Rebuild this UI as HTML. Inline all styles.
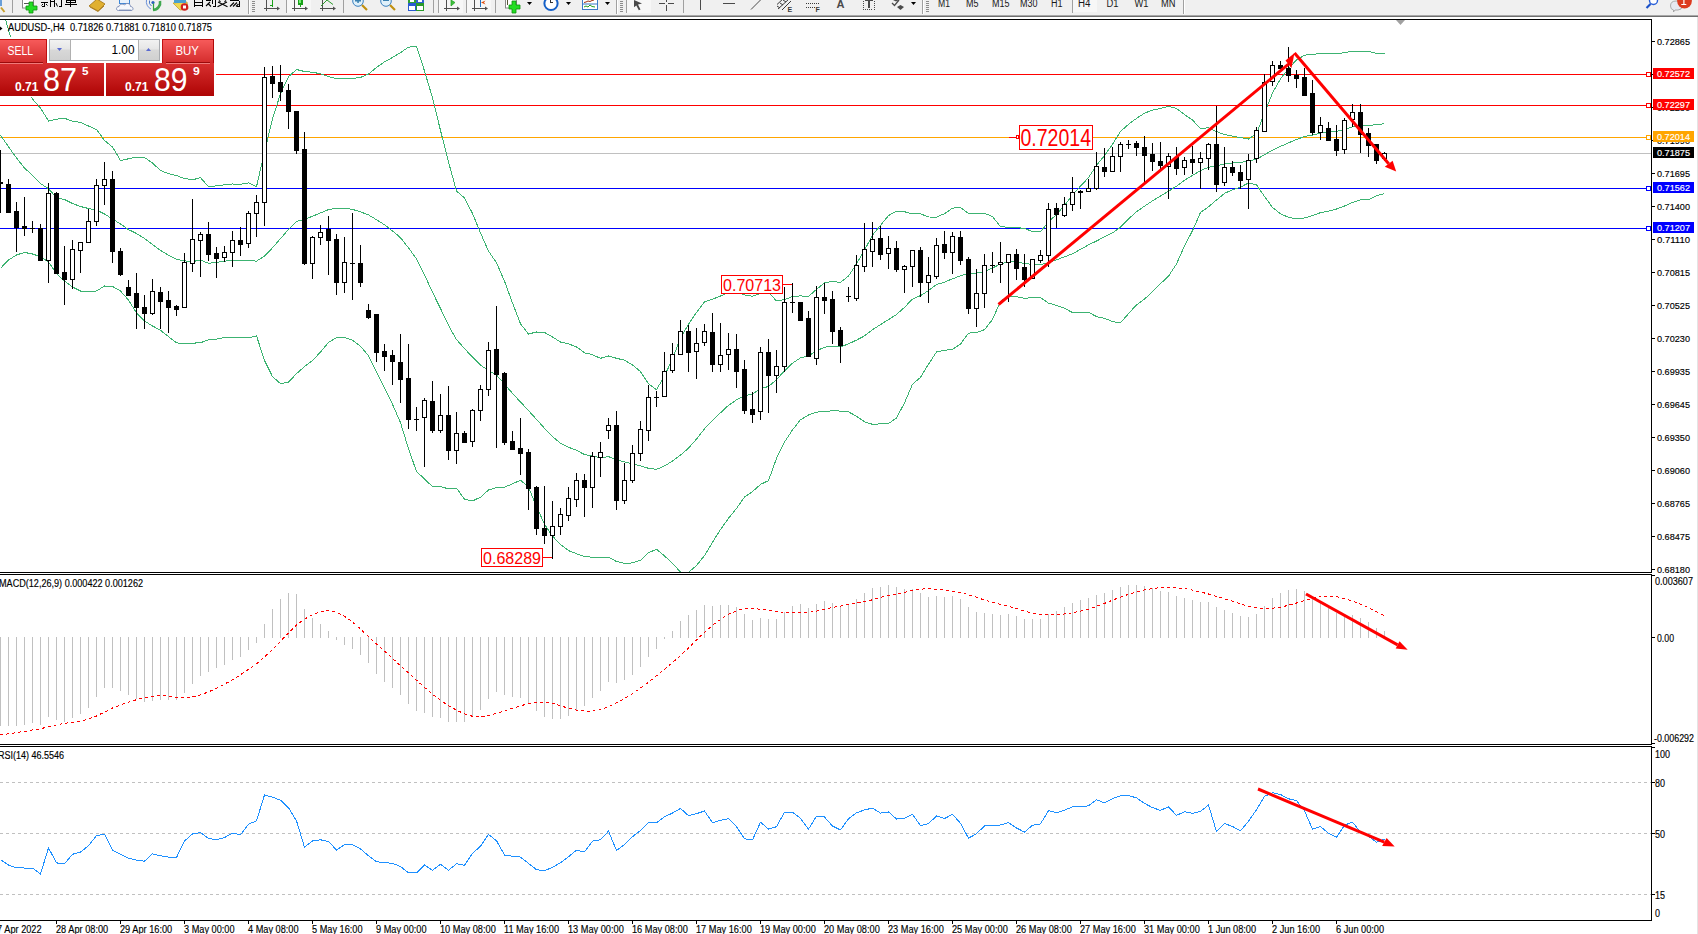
<!DOCTYPE html>
<html><head><meta charset="utf-8"><title>MT4 AUDUSD H4</title>
<style>html,body{margin:0;padding:0;background:#fff;overflow:hidden;width:1698px;height:934px} svg{display:block} text{font-family:"Liberation Sans",sans-serif}</style>
</head><body>
<svg width="1698" height="934" viewBox="0 0 1698 934" font-family="Liberation Sans, sans-serif">
<rect x="0" y="0" width="1698" height="934" fill="#ffffff"/>
<g id="toolbar">
<rect x="0" y="0" width="1698" height="15" fill="#f0f0f0"/>
<rect x="0" y="15" width="1698" height="1" fill="#a8a8a8"/>
<rect x="0" y="16" width="1698" height="1" fill="#6e6e6e"/>
<g shape-rendering="geometricPrecision">
<!-- separators -->
<g fill="#a0a0a0" shape-rendering="crispEdges">
<rect x="12" y="0" width="1" height="13"/>
<rect x="248" y="0" width="1" height="14"/>
<rect x="286" y="0" width="1" height="13"/>
<rect x="343" y="0" width="1" height="13"/>
<rect x="433" y="0" width="1" height="13"/>
<rect x="438" y="0" width="1" height="13"/>
<rect x="466" y="0" width="1" height="13"/>
<rect x="495" y="0" width="1" height="13"/>
<rect x="616" y="0" width="1" height="14"/>
<rect x="626" y="0" width="1" height="13"/>
<rect x="683" y="0" width="1" height="13"/>
<rect x="922" y="0" width="1" height="14"/>
<rect x="1072" y="0" width="1" height="13"/>
<rect x="1183" y="0" width="1" height="14"/>
</g>
<g fill="#ffffff" shape-rendering="crispEdges">
<rect x="249" y="0" width="1" height="14"/>
<rect x="617" y="0" width="1" height="14"/>
<rect x="923" y="0" width="1" height="14"/>
<rect x="1184" y="0" width="1" height="14"/>
</g>
<!-- grips -->
<g fill="#8c8c8c" shape-rendering="crispEdges">
<rect x="252" y="1" width="3" height="1"/><rect x="252" y="3" width="3" height="1"/><rect x="252" y="5" width="3" height="1"/><rect x="252" y="7" width="3" height="1"/><rect x="252" y="9" width="3" height="1"/><rect x="252" y="11" width="3" height="1"/>
<rect x="620" y="1" width="3" height="1"/><rect x="620" y="3" width="3" height="1"/><rect x="620" y="5" width="3" height="1"/><rect x="620" y="7" width="3" height="1"/><rect x="620" y="9" width="3" height="1"/><rect x="620" y="11" width="3" height="1"/>
<rect x="926" y="1" width="3" height="1"/><rect x="926" y="3" width="3" height="1"/><rect x="926" y="5" width="3" height="1"/><rect x="926" y="7" width="3" height="1"/><rect x="926" y="9" width="3" height="1"/><rect x="926" y="11" width="3" height="1"/>
</g>
<!-- highlighted button backgrounds -->
<g fill="#f7f7f7" shape-rendering="crispEdges">
<rect x="287" y="0" width="24" height="13"/>
<rect x="439" y="0" width="24" height="13"/>
<rect x="467" y="0" width="24" height="13"/>
<rect x="627" y="0" width="24" height="13"/>
<rect x="1073" y="0" width="24" height="12"/>
</g>
<!-- magnifier partial -->
<rect x="0" y="0" width="2" height="6" fill="#6a9fd8"/>
<line x1="1" y1="7.5" x2="4.5" y2="12" stroke="#c8a030" stroke-width="2"/>
<!-- new order icon -->
<rect x="22.5" y="-2" width="11" height="10" fill="#fff" stroke="#888"/>
<rect x="24" y="3" width="6" height="1" fill="#555"/>
<path d="M29,2 h4 v4 h4 v4 h-4 v3 h-4 v-3 h-3 v-4 h3 z" fill="#22dd22" stroke="#109010" stroke-width="0.8"/>
<!-- 新订单 -->
<g fill="#000" shape-rendering="crispEdges">
<rect x="41" y="2" width="7" height="1"/><rect x="44" y="2" width="1" height="5"/><rect x="42" y="6" width="2" height="1"/>
<rect x="50" y="0" width="1" height="7"/><rect x="51" y="1" width="3" height="1"/><rect x="54" y="0" width="1" height="7"/>
<rect x="61" y="0" width="1" height="7"/><rect x="59" y="6" width="2" height="1"/>
<rect x="66" y="0" width="10" height="1"/><rect x="66" y="2" width="10" height="1"/><rect x="65" y="4" width="12" height="1"/><rect x="70" y="0" width="1" height="7"/><rect x="66" y="0" width="1" height="3"/><rect x="75" y="0" width="1" height="3"/>
</g>
<g stroke="#000" stroke-width="1" fill="none"><line x1="41.5" y1="5.5" x2="43" y2="4"/><line x1="46" y1="4" x2="47.5" y2="5.5"/><line x1="56" y1="3" x2="57.5" y2="6.5"/></g>
<!-- gold book -->
<path d="M89,6 L97,-1 L105,4 L98,11 Z" fill="#e0b030" stroke="#a07010" stroke-width="0.8"/>
<path d="M90,7 L98,11.5 L104,6" fill="none" stroke="#b08020" stroke-width="1"/>
<!-- cloud -->
<rect x="119.5" y="-1" width="10" height="4.5" fill="#e8f2fc" stroke="#3a86d8" stroke-width="1"/>
<path d="M118.5,10.5 C115.5,10.5 116,6.5 119,6.5 C119.5,4 123,3.5 124.5,5 C126,2.5 130.5,3 130.5,6.5 C133.5,6.5 134,10.5 131,10.5 Z" fill="#f6f8fc" stroke="#8090b8" stroke-width="1"/>
<path d="M119,9.5 L131,9.5" stroke="#c8d0e0" stroke-width="1"/>
<!-- signal -->
<path d="M146.5,0 A8,8 0 0 0 151,9" fill="none" stroke="#6a90d8" stroke-width="1"/>
<path d="M149.5,0.5 A5,5 0 0 0 151.5,6" fill="none" stroke="#4a78c8" stroke-width="1"/>
<circle cx="153" cy="2.5" r="1.6" fill="#2a60c0"/>
<path d="M153,10 A7.5,7.5 0 0 0 160,1" fill="none" stroke="#40a850" stroke-width="2.6"/>
<path d="M153.5,3.5 L153.5,10" stroke="#30a040" stroke-width="1.2"/>
<!-- auto trading -->
<path d="M173,3 L180,10 L188,9 L187,2 Z" fill="#f0d850" stroke="#c0a030" stroke-width="0.8"/>
<rect x="174" y="0" width="12" height="3" fill="#4aa0d0"/>
<circle cx="184.5" cy="7" r="3.8" fill="#d02020"/>
<rect x="183" y="5.5" width="3" height="3" fill="#fff"/>
<!-- 自动交易 -->
<g fill="#000" shape-rendering="crispEdges">
<rect x="194" y="0" width="1" height="7"/><rect x="202" y="0" width="1" height="7"/><rect x="195" y="2" width="7" height="1"/><rect x="195" y="5" width="7" height="1"/>
<rect x="206" y="0" width="5" height="1"/><rect x="215" y="0" width="1" height="7"/><rect x="213" y="6" width="2" height="1"/><rect x="212" y="0" width="1" height="4"/>
<rect x="230" y="0" width="9" height="1"/><rect x="239" y="1" width="1" height="6"/><rect x="237" y="6" width="2" height="1"/>
</g>
<g stroke="#000" stroke-width="1.1" fill="none">
<line x1="206" y1="6" x2="210" y2="2"/><line x1="208" y1="3.5" x2="211" y2="6.5"/>
<line x1="218" y1="2" x2="227.5" y2="6.8"/><line x1="227" y1="2" x2="217.5" y2="6.8"/><line x1="219" y1="0.5" x2="220.5" y2="1.8"/><line x1="226" y1="0.5" x2="224.5" y2="1.8"/>
<line x1="230" y1="6.5" x2="234" y2="2.5"/><line x1="233" y1="6.5" x2="237" y2="2.5"/><line x1="236" y1="6.5" x2="238.5" y2="4"/>
</g>
<!-- chart type icons -->
<g fill="#505050" shape-rendering="crispEdges">
<rect x="266" y="0" width="1" height="11"/><rect x="264" y="8" width="13" height="1"/>
<rect x="294" y="0" width="1" height="11"/><rect x="292" y="8" width="13" height="1"/>
<rect x="322" y="0" width="1" height="11"/><rect x="320" y="8" width="13" height="1"/>
<rect x="446" y="0" width="1" height="11"/><rect x="444" y="8" width="13" height="1"/>
<rect x="474" y="0" width="1" height="11"/><rect x="472" y="8" width="13" height="1"/>
</g>
<g fill="#505050">
<polygon points="277,6.5 280,8.5 277,10.5"/><polygon points="305,6.5 308,8.5 305,10.5"/><polygon points="333,6.5 336,8.5 333,10.5"/><polygon points="457,6.5 460,8.5 457,10.5"/><polygon points="485,6.5 488,8.5 485,10.5"/>
</g>
<g shape-rendering="crispEdges" fill="#1aa01a">
<rect x="272" y="0" width="1" height="7"/><rect x="270" y="5" width="2" height="1"/>
<rect x="298" y="0" width="5" height="5"/><rect x="300" y="5" width="1" height="2"/>
</g>
<rect x="299" y="0" width="2" height="3" fill="#70f070"/>
<polyline points="321,6 327,0 333,4.5" fill="none" stroke="#2a9a2a" stroke-width="1"/>
<!-- zoom in / out -->
<g>
<line x1="362" y1="5" x2="367" y2="10" stroke="#c09010" stroke-width="2.2"/>
<circle cx="358" cy="1" r="5.3" fill="#dff0fa" stroke="#3a80c0" stroke-width="1"/>
<rect x="355" y="0" width="6" height="1.5" fill="#3a80b0"/><rect x="357.3" y="-2" width="1.5" height="5" fill="#3a80b0"/>
<line x1="390" y1="5" x2="395" y2="10" stroke="#c09010" stroke-width="2.2"/>
<circle cx="386" cy="1" r="5.3" fill="#dff0fa" stroke="#3a80c0" stroke-width="1"/>
<rect x="383" y="-1" width="6" height="2" fill="#3a80b0"/>
</g>
<!-- tile windows -->
<g shape-rendering="crispEdges">
<rect x="408" y="0" width="8" height="3" fill="#30a030"/><rect x="416" y="0" width="8" height="3" fill="#3060d0"/>
<rect x="408" y="3" width="8" height="8" fill="#2a5ad0"/><rect x="416" y="3" width="8" height="8" fill="#2a9a2a"/>
<rect x="409" y="6" width="6" height="4" fill="#fff"/><rect x="417" y="6" width="6" height="4" fill="#fff"/>
<rect x="410" y="0" width="4" height="2" fill="#fff"/><rect x="418" y="0" width="4" height="2" fill="#fff"/>
</g>
<!-- autoscroll / shift -->
<polygon points="451,0 455,2.5 451,6" fill="#40c040" stroke="#20a020" stroke-width="0.7"/>
<rect x="480" y="0" width="1" height="7" fill="#2070c0"/>
<polygon points="481,2.5 485.5,0.5 484,2.5 485.5,4.5" fill="#e05010"/>
<!-- indicators icon -->
<rect x="505.5" y="-2" width="11" height="10" fill="#fff" stroke="#888"/>
<rect x="507" y="0" width="1" height="5" fill="#553"/>
<path d="M512,1 h4 v4 h4 v4 h-4 v4 h-4 v-4 h-3 v-4 h3 z" fill="#22dd22" stroke="#109010" stroke-width="0.8"/>
<!-- dropdown arrows -->
<g fill="#000">
<polygon points="527,2 532,2 529.5,5"/><polygon points="566,2 571,2 568.5,5"/><polygon points="605,2 610,2 607.5,5"/><polygon points="911,2 916,2 913.5,5"/>
</g>
<!-- clock -->
<circle cx="551" cy="3.5" r="6.6" fill="#fff" stroke="#1560c8" stroke-width="2"/>
<rect x="550" y="-1" width="1" height="3" fill="#333"/><rect x="550" y="2" width="3" height="1" fill="#333"/>
<!-- template -->
<rect x="582.5" y="-1" width="15" height="10.5" fill="#fff" stroke="#3a7ac8"/>
<rect x="583" y="3.5" width="14" height="1" fill="#3a7ac8"/>
<polyline points="584,2.5 586,2 588,1 590,1.5 592,0.5 594,0" fill="none" stroke="#a03010" stroke-width="1"/>
<polyline points="584,7 586,6 588,7 590,5 592,6.5 595,7" fill="none" stroke="#20a020" stroke-width="1"/>
<!-- cursor -->
<polygon points="634,0 642,3.5 638,4.5 640.5,9.5 638.8,10.2 636.3,5.5 634,7.3" fill="#4a4a4a"/>
<!-- crosshair -->
<g fill="#4a4a4a" shape-rendering="crispEdges">
<rect x="659" y="3" width="6" height="1"/><rect x="668" y="3" width="6" height="1"/><rect x="666" y="0" width="1" height="2"/><rect x="666" y="5" width="1" height="6"/>
<rect x="700" y="0" width="1" height="10"/>
<rect x="723" y="3" width="12" height="1"/>
</g>
<line x1="751" y1="9.5" x2="761" y2="-0.5" stroke="#4a4a4a" stroke-width="1"/>
<!-- fibo -->
<g stroke="#3a3a3a" stroke-width="1" fill="none">
<line x1="777" y1="4.5" x2="784" y2="-2"/><line x1="778" y1="9" x2="789" y2="-1"/><line x1="782" y1="10" x2="791" y2="1"/>
<line x1="777" y1="6" x2="780" y2="8"/><line x1="780" y1="3" x2="783" y2="5"/><line x1="783" y1="0" x2="786" y2="2"/>
</g>
<text x="787.5" y="11.8" font-size="7" font-weight="bold" fill="#3a3a3a">E</text>
<g fill="#3a3a3a" shape-rendering="crispEdges">
<rect x="806" y="3" width="1" height="1"/><rect x="808" y="3" width="1" height="1"/><rect x="810" y="3" width="1" height="1"/><rect x="812" y="3" width="1" height="1"/><rect x="814" y="3" width="1" height="1"/><rect x="816" y="3" width="1" height="1"/><rect x="818" y="3" width="1" height="1"/>
<rect x="806" y="7" width="1" height="1"/><rect x="808" y="7" width="1" height="1"/><rect x="810" y="7" width="1" height="1"/><rect x="812" y="7" width="1" height="1"/><rect x="814" y="7" width="1" height="1"/>
</g>
<text x="815.5" y="11.8" font-size="7" font-weight="bold" fill="#3a3a3a">F</text>
<text x="836.5" y="8" font-size="11" font-weight="bold" fill="#4a4a4a" textLength="8" lengthAdjust="spacingAndGlyphs">A</text>
<g fill="#4a4a4a" shape-rendering="crispEdges">
<rect x="863" y="1" width="1" height="1"/><rect x="863" y="3" width="1" height="1"/><rect x="863" y="5" width="1" height="1"/><rect x="863" y="7" width="1" height="1"/><rect x="863" y="9" width="1" height="1"/>
<rect x="874" y="1" width="1" height="1"/><rect x="874" y="3" width="1" height="1"/><rect x="874" y="5" width="1" height="1"/><rect x="874" y="7" width="1" height="1"/><rect x="874" y="9" width="1" height="1"/>
<rect x="865" y="9" width="1" height="1"/><rect x="867" y="9" width="1" height="1"/><rect x="869" y="9" width="1" height="1"/><rect x="871" y="9" width="1" height="1"/>
<rect x="865" y="0" width="8" height="1"/><rect x="868" y="0" width="2" height="8"/>
</g>
<polyline points="892,3 894.5,5.5 899,0" fill="none" stroke="#4a4a4a" stroke-width="1.3"/>
<polygon points="897,7 900.5,5 904,7 900.5,10" fill="#4a4a4a"/>
<polygon points="893,0 899,0 896,1.5" fill="#4a4a4a"/>
<!-- timeframe labels -->
<g font-size="10" fill="#1a1a1a" font-family="Liberation Sans, sans-serif">
<text x="938" y="7" textLength="12" lengthAdjust="spacingAndGlyphs">M1</text>
<text x="966" y="7" textLength="12.5" lengthAdjust="spacingAndGlyphs">M5</text>
<text x="992" y="7" textLength="17.5" lengthAdjust="spacingAndGlyphs">M15</text>
<text x="1020" y="7" textLength="17.5" lengthAdjust="spacingAndGlyphs">M30</text>
<text x="1051" y="7" textLength="11.5" lengthAdjust="spacingAndGlyphs">H1</text>
<text x="1078" y="7" textLength="12.5" lengthAdjust="spacingAndGlyphs">H4</text>
<text x="1106.5" y="7" textLength="12" lengthAdjust="spacingAndGlyphs">D1</text>
<text x="1134.5" y="7" textLength="14" lengthAdjust="spacingAndGlyphs">W1</text>
<text x="1161" y="7" textLength="14.5" lengthAdjust="spacingAndGlyphs">MN</text>
</g>
<!-- search -->
<line x1="1646.5" y1="8" x2="1650.5" y2="4" stroke="#1a50c8" stroke-width="2.2"/>
<circle cx="1653.5" cy="0.5" r="4" fill="#fff" stroke="#2a60d8" stroke-width="1.4"/>
<!-- messages -->
<path d="M1670.5,6 Q1670.5,1 1676,1 L1680,1 Q1682,1 1682,6 Q1682,10 1678,10 L1675,10 L1673.5,12 L1673.5,10 Q1670.5,9.5 1670.5,6 Z" fill="#e6e8f0" stroke="#9a9a9a" stroke-width="0.8"/>
<circle cx="1684.5" cy="1" r="7.4" fill="#dc3a1e"/>
<rect x="1683.3" y="-2" width="1.2" height="6" fill="#fff"/><rect x="1681.3" y="4" width="5" height="1" fill="#fff"/>
</g>

</g>
<rect x="1697" y="17" width="1" height="917" fill="#e4e4e4"/>
<defs><clipPath id="cm"><rect x="0" y="20" width="1651" height="552"/></clipPath><clipPath id="cmacd"><rect x="0" y="575" width="1651" height="169"/></clipPath><clipPath id="crsi"><rect x="0" y="747" width="1651" height="173"/></clipPath></defs>
<g clip-path="url(#cm)" shape-rendering="crispEdges">
<rect x="0" y="74" width="1651" height="1" fill="#ff0000"/>
<rect x="0" y="105" width="1651" height="1" fill="#ff0000"/>
<rect x="0" y="137" width="1651" height="1" fill="#ffa500"/>
<rect x="0" y="153" width="1651" height="1" fill="#c0c0c0"/>
<rect x="0" y="188" width="1651" height="1" fill="#0000ff"/>
<rect x="0" y="228" width="1651" height="1" fill="#0000ff"/>
</g>
<g clip-path="url(#cm)">
<polyline points="0.5,2.0 8.5,30.0 16.5,55.0 24.5,77.0 32.5,99.0 40.5,108.0 48.5,121.0 56.5,119.2 64.5,118.3 72.5,121.1 80.5,122.4 88.5,126.0 96.5,129.5 104.5,140.4 112.5,147.0 120.5,160.5 128.5,158.8 136.5,157.1 144.5,157.5 152.5,163.0 160.5,170.5 168.5,173.7 176.5,175.6 184.5,178.5 192.5,179.8 200.5,177.7 208.5,186.6 216.5,185.9 224.5,184.8 232.5,184.0 240.5,184.2 248.5,182.9 256.5,186.7 264.5,151.8 272.5,118.9 280.5,93.6 288.5,76.7 296.5,69.5 304.5,71.5 312.5,72.2 320.5,73.8 328.5,76.6 336.5,78.8 344.5,78.8 352.5,78.5 360.5,77.4 368.5,74.0 376.5,67.4 384.5,61.9 392.5,57.5 400.5,52.6 408.5,47.2 416.5,46.1 424.5,71.0 432.5,97.9 440.5,130.5 448.5,162.0 456.5,191.0 464.5,197.9 472.5,213.5 480.5,232.9 488.5,251.1 496.5,262.8 504.5,281.1 512.5,303.0 520.5,323.8 528.5,334.0 536.5,332.0 544.5,332.5 552.5,337.0 560.5,342.0 568.5,343.9 576.5,346.9 584.5,352.8 592.5,354.7 600.5,358.3 608.5,356.0 616.5,358.3 624.5,360.2 632.5,365.0 640.5,371.6 648.5,383.8 656.5,389.7 664.5,375.9 672.5,358.9 680.5,338.1 688.5,324.1 696.5,312.5 704.5,302.0 712.5,299.2 720.5,296.0 728.5,292.3 736.5,291.3 744.5,294.9 752.5,296.2 760.5,293.4 768.5,292.2 776.5,301.0 784.5,299.5 792.5,296.6 800.5,295.9 808.5,296.5 816.5,289.4 824.5,282.8 832.5,281.4 840.5,282.4 848.5,276.0 856.5,263.9 864.5,250.1 872.5,235.1 880.5,225.4 888.5,215.6 896.5,211.1 904.5,211.7 912.5,214.0 920.5,213.8 928.5,217.0 936.5,217.1 944.5,213.7 952.5,208.2 960.5,207.4 968.5,213.6 976.5,213.7 984.5,213.2 992.5,216.7 1000.5,226.6 1008.5,227.3 1016.5,227.4 1024.5,228.6 1032.5,231.4 1040.5,231.5 1048.5,222.1 1056.5,214.3 1064.5,205.3 1072.5,195.1 1080.5,186.1 1088.5,177.6 1096.5,165.4 1104.5,155.6 1112.5,144.3 1120.5,131.4 1128.5,124.3 1136.5,118.4 1144.5,113.2 1152.5,110.1 1160.5,108.5 1168.5,106.2 1176.5,108.4 1184.5,114.5 1192.5,120.1 1200.5,128.6 1208.5,127.8 1216.5,131.6 1224.5,134.5 1232.5,136.2 1240.5,137.6 1248.5,139.1 1256.5,133.6 1264.5,113.1 1272.5,93.0 1280.5,78.9 1288.5,68.6 1296.5,60.0 1304.5,55.1 1312.5,54.4 1320.5,53.5 1328.5,53.3 1336.5,53.7 1344.5,52.7 1352.5,51.3 1360.5,51.4 1368.5,51.4 1376.5,53.3 1384.5,54.0" fill="none" stroke="#3cb371" stroke-width="1" shape-rendering="crispEdges" />
<polyline points="0.5,135.2 8.5,146.8 16.5,158.0 24.5,168.0 32.5,175.4 40.5,183.6 48.5,188.6 56.5,197.7 64.5,199.5 72.5,203.5 80.5,206.5 88.5,208.5 96.5,210.0 104.5,214.0 112.5,219.0 120.5,224.0 128.5,229.6 136.5,233.5 144.5,238.5 152.5,244.5 160.5,250.4 168.5,255.2 176.5,259.2 184.5,260.9 192.5,261.5 200.5,260.2 208.5,263.2 216.5,262.5 224.5,261.1 232.5,260.7 240.5,260.8 248.5,260.4 256.5,261.2 264.5,256.1 272.5,247.8 280.5,238.6 288.5,229.4 296.5,221.6 304.5,219.1 312.5,216.3 320.5,212.9 328.5,209.6 336.5,208.2 344.5,208.2 352.5,209.4 360.5,211.8 368.5,214.9 376.5,219.7 384.5,224.8 392.5,230.9 400.5,237.7 408.5,247.9 416.5,258.8 424.5,274.9 432.5,292.3 440.5,308.5 448.5,325.4 456.5,339.6 464.5,348.6 472.5,357.2 480.5,365.1 488.5,370.6 496.5,375.1 504.5,384.1 512.5,393.4 520.5,402.0 528.5,410.6 536.5,419.4 544.5,428.3 552.5,436.6 560.5,443.3 568.5,447.2 576.5,450.3 584.5,454.6 592.5,455.9 600.5,457.8 608.5,456.6 616.5,459.9 624.5,461.8 632.5,463.9 640.5,465.9 648.5,468.3 656.5,469.4 664.5,465.9 672.5,461.1 680.5,455.1 688.5,448.2 696.5,439.0 704.5,428.8 712.5,420.7 720.5,412.8 728.5,405.3 736.5,399.9 744.5,396.0 752.5,393.9 760.5,388.9 768.5,386.4 776.5,379.7 784.5,370.8 792.5,363.2 800.5,357.8 808.5,355.8 816.5,350.8 824.5,347.2 832.5,346.1 840.5,346.8 848.5,343.9 856.5,340.1 864.5,335.9 872.5,329.7 880.5,324.6 888.5,319.6 896.5,314.5 904.5,307.3 912.5,299.1 920.5,295.6 928.5,290.6 936.5,284.6 944.5,282.1 952.5,278.8 960.5,275.8 968.5,273.4 976.5,273.1 984.5,271.4 992.5,268.1 1000.5,263.9 1008.5,261.9 1016.5,262.0 1024.5,263.5 1032.5,264.5 1040.5,264.6 1048.5,262.6 1056.5,259.9 1064.5,256.8 1072.5,253.8 1080.5,249.3 1088.5,244.9 1096.5,241.0 1104.5,236.9 1112.5,232.9 1120.5,227.2 1128.5,218.9 1136.5,211.7 1144.5,206.2 1152.5,200.9 1160.5,196.1 1168.5,191.2 1176.5,186.2 1184.5,180.2 1192.5,175.4 1200.5,170.6 1208.5,167.3 1216.5,165.8 1224.5,163.9 1232.5,162.9 1240.5,162.4 1248.5,161.0 1256.5,159.2 1264.5,154.8 1272.5,150.2 1280.5,146.4 1288.5,142.9 1296.5,139.5 1304.5,136.5 1312.5,135.1 1320.5,133.1 1328.5,132.2 1336.5,131.3 1344.5,129.3 1352.5,126.8 1360.5,125.7 1368.5,125.7 1376.5,124.5 1384.5,123.8" fill="none" stroke="#3cb371" stroke-width="1" shape-rendering="crispEdges" />
<polyline points="0.5,268.3 8.5,260.0 16.5,255.0 24.5,252.4 32.5,254.0 40.5,256.7 48.5,262.0 56.5,273.5 64.5,281.0 72.5,287.0 80.5,291.0 88.5,292.0 96.5,291.0 104.5,286.0 112.5,286.5 120.5,291.0 128.5,300.0 136.5,313.0 144.5,321.0 152.5,326.0 160.5,330.3 168.5,336.6 176.5,342.9 184.5,343.4 192.5,343.2 200.5,342.7 208.5,339.9 216.5,339.1 224.5,337.5 232.5,337.4 240.5,337.4 248.5,337.9 256.5,335.8 264.5,360.5 272.5,376.6 280.5,383.6 288.5,382.1 296.5,373.6 304.5,366.6 312.5,360.5 320.5,352.0 328.5,342.5 336.5,337.6 344.5,337.6 352.5,340.3 360.5,346.2 368.5,355.9 376.5,371.9 384.5,387.8 392.5,404.3 400.5,422.7 408.5,448.7 416.5,471.5 424.5,478.9 432.5,486.7 440.5,486.5 448.5,488.9 456.5,488.2 464.5,499.2 472.5,500.9 480.5,497.2 488.5,490.0 496.5,487.5 504.5,487.2 512.5,483.9 520.5,480.2 528.5,487.1 536.5,506.7 544.5,524.1 552.5,536.1 560.5,544.6 568.5,550.6 576.5,553.7 584.5,556.5 592.5,557.2 600.5,557.3 608.5,557.1 616.5,561.5 624.5,563.4 632.5,562.9 640.5,560.3 648.5,552.8 656.5,549.2 664.5,555.9 672.5,563.4 680.5,572.0 688.5,572.4 696.5,565.5 704.5,555.6 712.5,542.2 720.5,529.5 728.5,518.3 736.5,508.4 744.5,497.1 752.5,491.6 760.5,484.4 768.5,480.6 776.5,458.4 784.5,442.1 792.5,429.9 800.5,419.7 808.5,415.0 816.5,412.1 824.5,411.6 832.5,410.7 840.5,411.1 848.5,411.9 856.5,416.2 864.5,421.8 872.5,424.3 880.5,423.9 888.5,423.6 896.5,417.9 904.5,402.9 912.5,384.2 920.5,377.4 928.5,364.2 936.5,352.0 944.5,350.4 952.5,349.3 960.5,344.1 968.5,333.1 976.5,332.6 984.5,329.6 992.5,319.5 1000.5,301.3 1008.5,296.4 1016.5,296.6 1024.5,298.4 1032.5,297.6 1040.5,297.6 1048.5,303.1 1056.5,305.4 1064.5,308.2 1072.5,312.6 1080.5,312.5 1088.5,312.3 1096.5,316.6 1104.5,318.3 1112.5,321.6 1120.5,322.9 1128.5,313.6 1136.5,304.9 1144.5,299.1 1152.5,291.8 1160.5,283.7 1168.5,276.2 1176.5,264.0 1184.5,246.0 1192.5,230.7 1200.5,212.5 1208.5,206.8 1216.5,200.0 1224.5,193.4 1232.5,189.7 1240.5,187.2 1248.5,182.9 1256.5,184.8 1264.5,196.4 1272.5,207.4 1280.5,213.9 1288.5,217.3 1296.5,219.0 1304.5,217.9 1312.5,215.7 1320.5,212.6 1328.5,211.2 1336.5,209.0 1344.5,206.0 1352.5,202.4 1360.5,199.9 1368.5,200.0 1376.5,195.7 1384.5,193.6" fill="none" stroke="#3cb371" stroke-width="1" shape-rendering="crispEdges" />
</g>
<g clip-path="url(#cm)" shape-rendering="crispEdges">
<rect x="0" y="150" width="1" height="32" fill="#000"/>
<rect x="0" y="184" width="1" height="29" fill="#000"/>
<rect x="-2" y="182" width="5" height="2" fill="#000"/>
<rect x="8" y="179" width="1" height="5" fill="#000"/>
<rect x="6" y="184" width="5" height="29" fill="#000"/>
<rect x="16" y="202" width="1" height="9" fill="#000"/>
<rect x="16" y="228" width="1" height="24" fill="#000"/>
<rect x="14" y="211" width="5" height="17" fill="#000"/>
<rect x="24" y="197" width="1" height="29" fill="#000"/>
<rect x="24" y="229" width="1" height="7" fill="#000"/>
<rect x="22" y="226" width="5" height="3" fill="#000"/>
<rect x="32" y="221" width="1" height="7" fill="#000"/>
<rect x="32" y="229" width="1" height="4" fill="#000"/>
<rect x="30" y="228" width="5" height="1" fill="#000"/>
<rect x="40" y="224" width="1" height="4" fill="#000"/>
<rect x="38" y="228" width="5" height="33" fill="#000"/>
<rect x="48" y="183" width="1" height="10" fill="#000"/>
<rect x="48" y="261" width="1" height="22" fill="#000"/>
<rect x="46" y="193" width="5" height="68" fill="#000"/>
<rect x="47" y="194" width="3" height="66" fill="#fff"/>
<rect x="56" y="192" width="1" height="1" fill="#000"/>
<rect x="54" y="193" width="5" height="81" fill="#000"/>
<rect x="64" y="246" width="1" height="26" fill="#000"/>
<rect x="64" y="280" width="1" height="25" fill="#000"/>
<rect x="62" y="272" width="5" height="8" fill="#000"/>
<rect x="72" y="240" width="1" height="9" fill="#000"/>
<rect x="72" y="280" width="1" height="9" fill="#000"/>
<rect x="70" y="249" width="5" height="31" fill="#000"/>
<rect x="71" y="250" width="3" height="29" fill="#fff"/>
<rect x="80" y="251" width="1" height="22" fill="#000"/>
<rect x="78" y="242" width="5" height="9" fill="#000"/>
<rect x="79" y="243" width="3" height="7" fill="#fff"/>
<rect x="88" y="209" width="1" height="12" fill="#000"/>
<rect x="86" y="221" width="5" height="22" fill="#000"/>
<rect x="87" y="222" width="3" height="20" fill="#fff"/>
<rect x="96" y="179" width="1" height="6" fill="#000"/>
<rect x="96" y="222" width="1" height="4" fill="#000"/>
<rect x="94" y="185" width="5" height="37" fill="#000"/>
<rect x="95" y="186" width="3" height="35" fill="#fff"/>
<rect x="104" y="162" width="1" height="17" fill="#000"/>
<rect x="104" y="186" width="1" height="19" fill="#000"/>
<rect x="102" y="179" width="5" height="7" fill="#000"/>
<rect x="103" y="180" width="3" height="5" fill="#fff"/>
<rect x="112" y="171" width="1" height="8" fill="#000"/>
<rect x="112" y="252" width="1" height="11" fill="#000"/>
<rect x="110" y="179" width="5" height="73" fill="#000"/>
<rect x="120" y="248" width="1" height="3" fill="#000"/>
<rect x="120" y="275" width="1" height="1" fill="#000"/>
<rect x="118" y="251" width="5" height="24" fill="#000"/>
<rect x="128" y="280" width="1" height="7" fill="#000"/>
<rect x="126" y="287" width="5" height="9" fill="#000"/>
<rect x="136" y="273" width="1" height="20" fill="#000"/>
<rect x="136" y="308" width="1" height="21" fill="#000"/>
<rect x="134" y="293" width="5" height="15" fill="#000"/>
<rect x="144" y="295" width="1" height="12" fill="#000"/>
<rect x="144" y="314" width="1" height="15" fill="#000"/>
<rect x="142" y="307" width="5" height="7" fill="#000"/>
<rect x="152" y="279" width="1" height="12" fill="#000"/>
<rect x="152" y="314" width="1" height="1" fill="#000"/>
<rect x="150" y="291" width="5" height="23" fill="#000"/>
<rect x="151" y="292" width="3" height="21" fill="#fff"/>
<rect x="160" y="287" width="1" height="5" fill="#000"/>
<rect x="160" y="302" width="1" height="27" fill="#000"/>
<rect x="158" y="292" width="5" height="10" fill="#000"/>
<rect x="168" y="291" width="1" height="9" fill="#000"/>
<rect x="168" y="308" width="1" height="25" fill="#000"/>
<rect x="166" y="300" width="5" height="8" fill="#000"/>
<rect x="176" y="305" width="1" height="1" fill="#000"/>
<rect x="176" y="310" width="1" height="6" fill="#000"/>
<rect x="174" y="306" width="5" height="4" fill="#000"/>
<rect x="184" y="253" width="1" height="9" fill="#000"/>
<rect x="182" y="262" width="5" height="46" fill="#000"/>
<rect x="183" y="263" width="3" height="44" fill="#fff"/>
<rect x="192" y="199" width="1" height="40" fill="#000"/>
<rect x="192" y="264" width="1" height="8" fill="#000"/>
<rect x="190" y="239" width="5" height="25" fill="#000"/>
<rect x="191" y="240" width="3" height="23" fill="#fff"/>
<rect x="200" y="232" width="1" height="2" fill="#000"/>
<rect x="200" y="241" width="1" height="36" fill="#000"/>
<rect x="198" y="234" width="5" height="7" fill="#000"/>
<rect x="199" y="235" width="3" height="5" fill="#fff"/>
<rect x="208" y="222" width="1" height="12" fill="#000"/>
<rect x="208" y="255" width="1" height="6" fill="#000"/>
<rect x="206" y="234" width="5" height="21" fill="#000"/>
<rect x="216" y="247" width="1" height="6" fill="#000"/>
<rect x="216" y="259" width="1" height="19" fill="#000"/>
<rect x="214" y="253" width="5" height="6" fill="#000"/>
<rect x="224" y="246" width="1" height="6" fill="#000"/>
<rect x="224" y="258" width="1" height="4" fill="#000"/>
<rect x="222" y="252" width="5" height="6" fill="#000"/>
<rect x="223" y="253" width="3" height="4" fill="#fff"/>
<rect x="232" y="231" width="1" height="9" fill="#000"/>
<rect x="232" y="253" width="1" height="14" fill="#000"/>
<rect x="230" y="240" width="5" height="13" fill="#000"/>
<rect x="231" y="241" width="3" height="11" fill="#fff"/>
<rect x="240" y="227" width="1" height="13" fill="#000"/>
<rect x="240" y="245" width="1" height="11" fill="#000"/>
<rect x="238" y="240" width="5" height="5" fill="#000"/>
<rect x="248" y="211" width="1" height="2" fill="#000"/>
<rect x="248" y="244" width="1" height="4" fill="#000"/>
<rect x="246" y="213" width="5" height="31" fill="#000"/>
<rect x="247" y="214" width="3" height="29" fill="#fff"/>
<rect x="256" y="195" width="1" height="7" fill="#000"/>
<rect x="256" y="214" width="1" height="23" fill="#000"/>
<rect x="254" y="202" width="5" height="12" fill="#000"/>
<rect x="255" y="203" width="3" height="10" fill="#fff"/>
<rect x="264" y="67" width="1" height="10" fill="#000"/>
<rect x="264" y="203" width="1" height="23" fill="#000"/>
<rect x="262" y="77" width="5" height="126" fill="#000"/>
<rect x="263" y="78" width="3" height="124" fill="#fff"/>
<rect x="272" y="66" width="1" height="10" fill="#000"/>
<rect x="272" y="84" width="1" height="14" fill="#000"/>
<rect x="270" y="76" width="5" height="8" fill="#000"/>
<rect x="280" y="65" width="1" height="17" fill="#000"/>
<rect x="280" y="92" width="1" height="9" fill="#000"/>
<rect x="278" y="82" width="5" height="10" fill="#000"/>
<rect x="288" y="84" width="1" height="6" fill="#000"/>
<rect x="288" y="112" width="1" height="17" fill="#000"/>
<rect x="286" y="90" width="5" height="22" fill="#000"/>
<rect x="296" y="151" width="1" height="3" fill="#000"/>
<rect x="294" y="111" width="5" height="40" fill="#000"/>
<rect x="304" y="132" width="1" height="17" fill="#000"/>
<rect x="304" y="264" width="1" height="1" fill="#000"/>
<rect x="302" y="149" width="5" height="115" fill="#000"/>
<rect x="312" y="236" width="1" height="1" fill="#000"/>
<rect x="312" y="264" width="1" height="15" fill="#000"/>
<rect x="310" y="237" width="5" height="27" fill="#000"/>
<rect x="311" y="238" width="3" height="25" fill="#fff"/>
<rect x="320" y="225" width="1" height="7" fill="#000"/>
<rect x="320" y="238" width="1" height="7" fill="#000"/>
<rect x="318" y="232" width="5" height="6" fill="#000"/>
<rect x="319" y="233" width="3" height="4" fill="#fff"/>
<rect x="328" y="216" width="1" height="13" fill="#000"/>
<rect x="328" y="241" width="1" height="34" fill="#000"/>
<rect x="326" y="229" width="5" height="12" fill="#000"/>
<rect x="336" y="234" width="1" height="5" fill="#000"/>
<rect x="336" y="283" width="1" height="12" fill="#000"/>
<rect x="334" y="239" width="5" height="44" fill="#000"/>
<rect x="344" y="237" width="1" height="25" fill="#000"/>
<rect x="344" y="283" width="1" height="10" fill="#000"/>
<rect x="342" y="262" width="5" height="21" fill="#000"/>
<rect x="343" y="263" width="3" height="19" fill="#fff"/>
<rect x="352" y="213" width="1" height="50" fill="#000"/>
<rect x="352" y="264" width="1" height="36" fill="#000"/>
<rect x="350" y="263" width="5" height="1" fill="#000"/>
<rect x="360" y="245" width="1" height="18" fill="#000"/>
<rect x="360" y="283" width="1" height="4" fill="#000"/>
<rect x="358" y="263" width="5" height="20" fill="#000"/>
<rect x="368" y="304" width="1" height="6" fill="#000"/>
<rect x="368" y="318" width="1" height="1" fill="#000"/>
<rect x="366" y="310" width="5" height="8" fill="#000"/>
<rect x="376" y="353" width="1" height="9" fill="#000"/>
<rect x="374" y="314" width="5" height="39" fill="#000"/>
<rect x="384" y="344" width="1" height="7" fill="#000"/>
<rect x="384" y="357" width="1" height="14" fill="#000"/>
<rect x="382" y="351" width="5" height="6" fill="#000"/>
<rect x="392" y="350" width="1" height="5" fill="#000"/>
<rect x="392" y="362" width="1" height="23" fill="#000"/>
<rect x="390" y="355" width="5" height="7" fill="#000"/>
<rect x="400" y="334" width="1" height="28" fill="#000"/>
<rect x="400" y="380" width="1" height="23" fill="#000"/>
<rect x="398" y="362" width="5" height="18" fill="#000"/>
<rect x="408" y="344" width="1" height="34" fill="#000"/>
<rect x="408" y="420" width="1" height="9" fill="#000"/>
<rect x="406" y="378" width="5" height="42" fill="#000"/>
<rect x="416" y="407" width="1" height="12" fill="#000"/>
<rect x="416" y="420" width="1" height="11" fill="#000"/>
<rect x="414" y="419" width="5" height="1" fill="#000"/>
<rect x="424" y="398" width="1" height="2" fill="#000"/>
<rect x="424" y="418" width="1" height="49" fill="#000"/>
<rect x="422" y="400" width="5" height="18" fill="#000"/>
<rect x="423" y="401" width="3" height="16" fill="#fff"/>
<rect x="432" y="381" width="1" height="20" fill="#000"/>
<rect x="432" y="431" width="1" height="2" fill="#000"/>
<rect x="430" y="401" width="5" height="30" fill="#000"/>
<rect x="440" y="394" width="1" height="21" fill="#000"/>
<rect x="440" y="431" width="1" height="2" fill="#000"/>
<rect x="438" y="415" width="5" height="16" fill="#000"/>
<rect x="439" y="416" width="3" height="14" fill="#fff"/>
<rect x="448" y="386" width="1" height="29" fill="#000"/>
<rect x="448" y="451" width="1" height="9" fill="#000"/>
<rect x="446" y="415" width="5" height="36" fill="#000"/>
<rect x="456" y="412" width="1" height="21" fill="#000"/>
<rect x="456" y="451" width="1" height="13" fill="#000"/>
<rect x="454" y="433" width="5" height="18" fill="#000"/>
<rect x="455" y="434" width="3" height="16" fill="#fff"/>
<rect x="464" y="431" width="1" height="2" fill="#000"/>
<rect x="462" y="433" width="5" height="10" fill="#000"/>
<rect x="472" y="409" width="1" height="1" fill="#000"/>
<rect x="472" y="442" width="1" height="5" fill="#000"/>
<rect x="470" y="410" width="5" height="32" fill="#000"/>
<rect x="471" y="411" width="3" height="30" fill="#fff"/>
<rect x="480" y="385" width="1" height="4" fill="#000"/>
<rect x="480" y="411" width="1" height="10" fill="#000"/>
<rect x="478" y="389" width="5" height="22" fill="#000"/>
<rect x="479" y="390" width="3" height="20" fill="#fff"/>
<rect x="488" y="342" width="1" height="8" fill="#000"/>
<rect x="488" y="390" width="1" height="6" fill="#000"/>
<rect x="486" y="350" width="5" height="40" fill="#000"/>
<rect x="487" y="351" width="3" height="38" fill="#fff"/>
<rect x="496" y="306" width="1" height="43" fill="#000"/>
<rect x="496" y="375" width="1" height="73" fill="#000"/>
<rect x="494" y="349" width="5" height="26" fill="#000"/>
<rect x="504" y="372" width="1" height="1" fill="#000"/>
<rect x="504" y="443" width="1" height="2" fill="#000"/>
<rect x="502" y="373" width="5" height="70" fill="#000"/>
<rect x="512" y="431" width="1" height="10" fill="#000"/>
<rect x="510" y="441" width="5" height="9" fill="#000"/>
<rect x="520" y="418" width="1" height="30" fill="#000"/>
<rect x="520" y="454" width="1" height="21" fill="#000"/>
<rect x="518" y="448" width="5" height="6" fill="#000"/>
<rect x="528" y="449" width="1" height="3" fill="#000"/>
<rect x="528" y="489" width="1" height="21" fill="#000"/>
<rect x="526" y="452" width="5" height="37" fill="#000"/>
<rect x="536" y="486" width="1" height="1" fill="#000"/>
<rect x="536" y="529" width="1" height="6" fill="#000"/>
<rect x="534" y="487" width="5" height="42" fill="#000"/>
<rect x="544" y="486" width="1" height="42" fill="#000"/>
<rect x="544" y="536" width="1" height="8" fill="#000"/>
<rect x="542" y="528" width="5" height="8" fill="#000"/>
<rect x="552" y="501" width="1" height="25" fill="#000"/>
<rect x="552" y="536" width="1" height="23" fill="#000"/>
<rect x="550" y="526" width="5" height="10" fill="#000"/>
<rect x="551" y="527" width="3" height="8" fill="#fff"/>
<rect x="560" y="508" width="1" height="6" fill="#000"/>
<rect x="560" y="527" width="1" height="8" fill="#000"/>
<rect x="558" y="514" width="5" height="13" fill="#000"/>
<rect x="559" y="515" width="3" height="11" fill="#fff"/>
<rect x="568" y="487" width="1" height="11" fill="#000"/>
<rect x="568" y="516" width="1" height="5" fill="#000"/>
<rect x="566" y="498" width="5" height="18" fill="#000"/>
<rect x="567" y="499" width="3" height="16" fill="#fff"/>
<rect x="576" y="473" width="1" height="7" fill="#000"/>
<rect x="576" y="500" width="1" height="7" fill="#000"/>
<rect x="574" y="480" width="5" height="20" fill="#000"/>
<rect x="575" y="481" width="3" height="18" fill="#fff"/>
<rect x="584" y="474" width="1" height="6" fill="#000"/>
<rect x="584" y="488" width="1" height="29" fill="#000"/>
<rect x="582" y="480" width="5" height="8" fill="#000"/>
<rect x="592" y="452" width="1" height="4" fill="#000"/>
<rect x="592" y="488" width="1" height="20" fill="#000"/>
<rect x="590" y="456" width="5" height="32" fill="#000"/>
<rect x="591" y="457" width="3" height="30" fill="#fff"/>
<rect x="600" y="442" width="1" height="10" fill="#000"/>
<rect x="600" y="458" width="1" height="19" fill="#000"/>
<rect x="598" y="452" width="5" height="6" fill="#000"/>
<rect x="599" y="453" width="3" height="4" fill="#fff"/>
<rect x="608" y="418" width="1" height="7" fill="#000"/>
<rect x="608" y="431" width="1" height="8" fill="#000"/>
<rect x="606" y="425" width="5" height="6" fill="#000"/>
<rect x="607" y="426" width="3" height="4" fill="#fff"/>
<rect x="616" y="411" width="1" height="14" fill="#000"/>
<rect x="616" y="501" width="1" height="9" fill="#000"/>
<rect x="614" y="425" width="5" height="76" fill="#000"/>
<rect x="624" y="463" width="1" height="17" fill="#000"/>
<rect x="624" y="501" width="1" height="3" fill="#000"/>
<rect x="622" y="480" width="5" height="21" fill="#000"/>
<rect x="623" y="481" width="3" height="19" fill="#fff"/>
<rect x="632" y="445" width="1" height="8" fill="#000"/>
<rect x="632" y="481" width="1" height="2" fill="#000"/>
<rect x="630" y="453" width="5" height="28" fill="#000"/>
<rect x="631" y="454" width="3" height="26" fill="#fff"/>
<rect x="640" y="421" width="1" height="8" fill="#000"/>
<rect x="640" y="454" width="1" height="7" fill="#000"/>
<rect x="638" y="429" width="5" height="25" fill="#000"/>
<rect x="639" y="430" width="3" height="23" fill="#fff"/>
<rect x="648" y="385" width="1" height="12" fill="#000"/>
<rect x="648" y="431" width="1" height="10" fill="#000"/>
<rect x="646" y="397" width="5" height="34" fill="#000"/>
<rect x="647" y="398" width="3" height="32" fill="#fff"/>
<rect x="656" y="391" width="1" height="6" fill="#000"/>
<rect x="656" y="398" width="1" height="9" fill="#000"/>
<rect x="654" y="397" width="5" height="1" fill="#000"/>
<rect x="664" y="352" width="1" height="19" fill="#000"/>
<rect x="662" y="371" width="5" height="26" fill="#000"/>
<rect x="663" y="372" width="3" height="24" fill="#fff"/>
<rect x="672" y="343" width="1" height="11" fill="#000"/>
<rect x="672" y="371" width="1" height="2" fill="#000"/>
<rect x="670" y="354" width="5" height="17" fill="#000"/>
<rect x="671" y="355" width="3" height="15" fill="#fff"/>
<rect x="680" y="320" width="1" height="11" fill="#000"/>
<rect x="678" y="331" width="5" height="24" fill="#000"/>
<rect x="679" y="332" width="3" height="22" fill="#fff"/>
<rect x="688" y="325" width="1" height="6" fill="#000"/>
<rect x="688" y="353" width="1" height="19" fill="#000"/>
<rect x="686" y="331" width="5" height="22" fill="#000"/>
<rect x="696" y="328" width="1" height="15" fill="#000"/>
<rect x="696" y="352" width="1" height="27" fill="#000"/>
<rect x="694" y="343" width="5" height="9" fill="#000"/>
<rect x="695" y="344" width="3" height="7" fill="#fff"/>
<rect x="704" y="324" width="1" height="7" fill="#000"/>
<rect x="704" y="343" width="1" height="3" fill="#000"/>
<rect x="702" y="331" width="5" height="12" fill="#000"/>
<rect x="703" y="332" width="3" height="10" fill="#fff"/>
<rect x="712" y="313" width="1" height="19" fill="#000"/>
<rect x="712" y="365" width="1" height="7" fill="#000"/>
<rect x="710" y="332" width="5" height="33" fill="#000"/>
<rect x="720" y="323" width="1" height="32" fill="#000"/>
<rect x="720" y="365" width="1" height="7" fill="#000"/>
<rect x="718" y="355" width="5" height="10" fill="#000"/>
<rect x="719" y="356" width="3" height="8" fill="#fff"/>
<rect x="728" y="333" width="1" height="16" fill="#000"/>
<rect x="728" y="355" width="1" height="15" fill="#000"/>
<rect x="726" y="349" width="5" height="6" fill="#000"/>
<rect x="727" y="350" width="3" height="4" fill="#fff"/>
<rect x="736" y="334" width="1" height="15" fill="#000"/>
<rect x="736" y="372" width="1" height="16" fill="#000"/>
<rect x="734" y="349" width="5" height="23" fill="#000"/>
<rect x="744" y="360" width="1" height="9" fill="#000"/>
<rect x="744" y="411" width="1" height="3" fill="#000"/>
<rect x="742" y="369" width="5" height="42" fill="#000"/>
<rect x="752" y="392" width="1" height="17" fill="#000"/>
<rect x="752" y="415" width="1" height="8" fill="#000"/>
<rect x="750" y="409" width="5" height="6" fill="#000"/>
<rect x="760" y="347" width="1" height="5" fill="#000"/>
<rect x="760" y="412" width="1" height="8" fill="#000"/>
<rect x="758" y="352" width="5" height="60" fill="#000"/>
<rect x="759" y="353" width="3" height="58" fill="#fff"/>
<rect x="768" y="339" width="1" height="13" fill="#000"/>
<rect x="768" y="376" width="1" height="37" fill="#000"/>
<rect x="766" y="352" width="5" height="24" fill="#000"/>
<rect x="776" y="350" width="1" height="16" fill="#000"/>
<rect x="776" y="376" width="1" height="17" fill="#000"/>
<rect x="774" y="366" width="5" height="10" fill="#000"/>
<rect x="775" y="367" width="3" height="8" fill="#fff"/>
<rect x="784" y="287" width="1" height="15" fill="#000"/>
<rect x="784" y="367" width="1" height="5" fill="#000"/>
<rect x="782" y="302" width="5" height="65" fill="#000"/>
<rect x="783" y="303" width="3" height="63" fill="#fff"/>
<rect x="792" y="283" width="1" height="19" fill="#000"/>
<rect x="792" y="303" width="1" height="10" fill="#000"/>
<rect x="790" y="302" width="5" height="1" fill="#000"/>
<rect x="798" y="302" width="5" height="19" fill="#000"/>
<rect x="808" y="311" width="1" height="7" fill="#000"/>
<rect x="806" y="318" width="5" height="39" fill="#000"/>
<rect x="816" y="286" width="1" height="11" fill="#000"/>
<rect x="816" y="359" width="1" height="6" fill="#000"/>
<rect x="814" y="297" width="5" height="62" fill="#000"/>
<rect x="815" y="298" width="3" height="60" fill="#fff"/>
<rect x="824" y="283" width="1" height="14" fill="#000"/>
<rect x="824" y="301" width="1" height="13" fill="#000"/>
<rect x="822" y="297" width="5" height="4" fill="#000"/>
<rect x="832" y="291" width="1" height="8" fill="#000"/>
<rect x="832" y="332" width="1" height="12" fill="#000"/>
<rect x="830" y="299" width="5" height="33" fill="#000"/>
<rect x="840" y="327" width="1" height="3" fill="#000"/>
<rect x="840" y="346" width="1" height="17" fill="#000"/>
<rect x="838" y="330" width="5" height="16" fill="#000"/>
<rect x="848" y="287" width="1" height="9" fill="#000"/>
<rect x="848" y="297" width="1" height="5" fill="#000"/>
<rect x="846" y="296" width="5" height="1" fill="#000"/>
<rect x="856" y="255" width="1" height="10" fill="#000"/>
<rect x="856" y="299" width="1" height="2" fill="#000"/>
<rect x="854" y="265" width="5" height="34" fill="#000"/>
<rect x="855" y="266" width="3" height="32" fill="#fff"/>
<rect x="864" y="223" width="1" height="26" fill="#000"/>
<rect x="864" y="267" width="1" height="5" fill="#000"/>
<rect x="862" y="249" width="5" height="18" fill="#000"/>
<rect x="863" y="250" width="3" height="16" fill="#fff"/>
<rect x="872" y="222" width="1" height="17" fill="#000"/>
<rect x="872" y="252" width="1" height="15" fill="#000"/>
<rect x="870" y="239" width="5" height="13" fill="#000"/>
<rect x="871" y="240" width="3" height="11" fill="#fff"/>
<rect x="880" y="226" width="1" height="12" fill="#000"/>
<rect x="880" y="255" width="1" height="5" fill="#000"/>
<rect x="878" y="238" width="5" height="17" fill="#000"/>
<rect x="888" y="236" width="1" height="12" fill="#000"/>
<rect x="888" y="254" width="1" height="15" fill="#000"/>
<rect x="886" y="248" width="5" height="6" fill="#000"/>
<rect x="887" y="249" width="3" height="4" fill="#fff"/>
<rect x="896" y="241" width="1" height="7" fill="#000"/>
<rect x="896" y="270" width="1" height="2" fill="#000"/>
<rect x="894" y="248" width="5" height="22" fill="#000"/>
<rect x="904" y="265" width="1" height="1" fill="#000"/>
<rect x="904" y="270" width="1" height="23" fill="#000"/>
<rect x="902" y="266" width="5" height="4" fill="#000"/>
<rect x="903" y="267" width="3" height="2" fill="#fff"/>
<rect x="912" y="267" width="1" height="20" fill="#000"/>
<rect x="910" y="250" width="5" height="17" fill="#000"/>
<rect x="911" y="251" width="3" height="15" fill="#fff"/>
<rect x="920" y="247" width="1" height="3" fill="#000"/>
<rect x="920" y="283" width="1" height="14" fill="#000"/>
<rect x="918" y="250" width="5" height="33" fill="#000"/>
<rect x="928" y="257" width="1" height="18" fill="#000"/>
<rect x="928" y="283" width="1" height="20" fill="#000"/>
<rect x="926" y="275" width="5" height="8" fill="#000"/>
<rect x="927" y="276" width="3" height="6" fill="#fff"/>
<rect x="936" y="238" width="1" height="7" fill="#000"/>
<rect x="936" y="277" width="1" height="2" fill="#000"/>
<rect x="934" y="245" width="5" height="32" fill="#000"/>
<rect x="935" y="246" width="3" height="30" fill="#fff"/>
<rect x="944" y="231" width="1" height="13" fill="#000"/>
<rect x="944" y="253" width="1" height="6" fill="#000"/>
<rect x="942" y="244" width="5" height="9" fill="#000"/>
<rect x="952" y="232" width="1" height="4" fill="#000"/>
<rect x="952" y="253" width="1" height="21" fill="#000"/>
<rect x="950" y="236" width="5" height="17" fill="#000"/>
<rect x="951" y="237" width="3" height="15" fill="#fff"/>
<rect x="960" y="231" width="1" height="6" fill="#000"/>
<rect x="960" y="261" width="1" height="4" fill="#000"/>
<rect x="958" y="237" width="5" height="24" fill="#000"/>
<rect x="968" y="257" width="1" height="2" fill="#000"/>
<rect x="968" y="309" width="1" height="5" fill="#000"/>
<rect x="966" y="259" width="5" height="50" fill="#000"/>
<rect x="976" y="269" width="1" height="24" fill="#000"/>
<rect x="976" y="309" width="1" height="18" fill="#000"/>
<rect x="974" y="293" width="5" height="16" fill="#000"/>
<rect x="975" y="294" width="3" height="14" fill="#fff"/>
<rect x="984" y="254" width="1" height="11" fill="#000"/>
<rect x="984" y="294" width="1" height="14" fill="#000"/>
<rect x="982" y="265" width="5" height="29" fill="#000"/>
<rect x="983" y="266" width="3" height="27" fill="#fff"/>
<rect x="992" y="252" width="1" height="13" fill="#000"/>
<rect x="992" y="266" width="1" height="7" fill="#000"/>
<rect x="990" y="265" width="5" height="1" fill="#000"/>
<rect x="1000" y="242" width="1" height="20" fill="#000"/>
<rect x="1000" y="265" width="1" height="18" fill="#000"/>
<rect x="998" y="262" width="5" height="3" fill="#000"/>
<rect x="999" y="263" width="3" height="1" fill="#fff"/>
<rect x="1008" y="263" width="1" height="39" fill="#000"/>
<rect x="1006" y="254" width="5" height="9" fill="#000"/>
<rect x="1007" y="255" width="3" height="7" fill="#fff"/>
<rect x="1016" y="249" width="1" height="5" fill="#000"/>
<rect x="1016" y="269" width="1" height="11" fill="#000"/>
<rect x="1014" y="254" width="5" height="15" fill="#000"/>
<rect x="1024" y="254" width="1" height="13" fill="#000"/>
<rect x="1024" y="280" width="1" height="7" fill="#000"/>
<rect x="1022" y="267" width="5" height="13" fill="#000"/>
<rect x="1030" y="259" width="5" height="20" fill="#000"/>
<rect x="1031" y="260" width="3" height="18" fill="#fff"/>
<rect x="1040" y="250" width="1" height="5" fill="#000"/>
<rect x="1040" y="261" width="1" height="2" fill="#000"/>
<rect x="1038" y="255" width="5" height="6" fill="#000"/>
<rect x="1039" y="256" width="3" height="4" fill="#fff"/>
<rect x="1048" y="203" width="1" height="6" fill="#000"/>
<rect x="1048" y="256" width="1" height="11" fill="#000"/>
<rect x="1046" y="209" width="5" height="47" fill="#000"/>
<rect x="1047" y="210" width="3" height="45" fill="#fff"/>
<rect x="1056" y="203" width="1" height="5" fill="#000"/>
<rect x="1056" y="215" width="1" height="13" fill="#000"/>
<rect x="1054" y="208" width="5" height="7" fill="#000"/>
<rect x="1064" y="197" width="1" height="7" fill="#000"/>
<rect x="1064" y="216" width="1" height="1" fill="#000"/>
<rect x="1062" y="204" width="5" height="12" fill="#000"/>
<rect x="1063" y="205" width="3" height="10" fill="#fff"/>
<rect x="1072" y="177" width="1" height="15" fill="#000"/>
<rect x="1072" y="205" width="1" height="6" fill="#000"/>
<rect x="1070" y="192" width="5" height="13" fill="#000"/>
<rect x="1071" y="193" width="3" height="11" fill="#fff"/>
<rect x="1080" y="190" width="1" height="1" fill="#000"/>
<rect x="1080" y="193" width="1" height="16" fill="#000"/>
<rect x="1078" y="191" width="5" height="2" fill="#000"/>
<rect x="1088" y="179" width="1" height="9" fill="#000"/>
<rect x="1086" y="188" width="5" height="4" fill="#000"/>
<rect x="1087" y="189" width="3" height="2" fill="#fff"/>
<rect x="1096" y="152" width="1" height="14" fill="#000"/>
<rect x="1096" y="189" width="1" height="1" fill="#000"/>
<rect x="1094" y="166" width="5" height="23" fill="#000"/>
<rect x="1095" y="167" width="3" height="21" fill="#fff"/>
<rect x="1104" y="148" width="1" height="19" fill="#000"/>
<rect x="1104" y="172" width="1" height="5" fill="#000"/>
<rect x="1102" y="167" width="5" height="5" fill="#000"/>
<rect x="1112" y="147" width="1" height="9" fill="#000"/>
<rect x="1110" y="156" width="5" height="16" fill="#000"/>
<rect x="1111" y="157" width="3" height="14" fill="#fff"/>
<rect x="1120" y="142" width="1" height="2" fill="#000"/>
<rect x="1120" y="157" width="1" height="15" fill="#000"/>
<rect x="1118" y="144" width="5" height="13" fill="#000"/>
<rect x="1119" y="145" width="3" height="11" fill="#fff"/>
<rect x="1128" y="140" width="1" height="4" fill="#000"/>
<rect x="1128" y="145" width="1" height="4" fill="#000"/>
<rect x="1126" y="144" width="5" height="1" fill="#000"/>
<rect x="1136" y="141" width="1" height="2" fill="#000"/>
<rect x="1136" y="148" width="1" height="8" fill="#000"/>
<rect x="1134" y="143" width="5" height="5" fill="#000"/>
<rect x="1144" y="136" width="1" height="11" fill="#000"/>
<rect x="1144" y="156" width="1" height="27" fill="#000"/>
<rect x="1142" y="147" width="5" height="9" fill="#000"/>
<rect x="1152" y="143" width="1" height="11" fill="#000"/>
<rect x="1152" y="162" width="1" height="9" fill="#000"/>
<rect x="1150" y="154" width="5" height="8" fill="#000"/>
<rect x="1160" y="142" width="1" height="19" fill="#000"/>
<rect x="1160" y="166" width="1" height="3" fill="#000"/>
<rect x="1158" y="161" width="5" height="5" fill="#000"/>
<rect x="1168" y="153" width="1" height="3" fill="#000"/>
<rect x="1168" y="167" width="1" height="32" fill="#000"/>
<rect x="1166" y="156" width="5" height="11" fill="#000"/>
<rect x="1167" y="157" width="3" height="9" fill="#fff"/>
<rect x="1176" y="147" width="1" height="10" fill="#000"/>
<rect x="1176" y="169" width="1" height="6" fill="#000"/>
<rect x="1174" y="157" width="5" height="12" fill="#000"/>
<rect x="1184" y="157" width="1" height="3" fill="#000"/>
<rect x="1184" y="168" width="1" height="7" fill="#000"/>
<rect x="1182" y="160" width="5" height="8" fill="#000"/>
<rect x="1183" y="161" width="3" height="6" fill="#fff"/>
<rect x="1192" y="146" width="1" height="13" fill="#000"/>
<rect x="1192" y="163" width="1" height="11" fill="#000"/>
<rect x="1190" y="159" width="5" height="4" fill="#000"/>
<rect x="1200" y="152" width="1" height="6" fill="#000"/>
<rect x="1200" y="163" width="1" height="26" fill="#000"/>
<rect x="1198" y="158" width="5" height="5" fill="#000"/>
<rect x="1199" y="159" width="3" height="3" fill="#fff"/>
<rect x="1208" y="143" width="1" height="1" fill="#000"/>
<rect x="1208" y="159" width="1" height="11" fill="#000"/>
<rect x="1206" y="144" width="5" height="15" fill="#000"/>
<rect x="1207" y="145" width="3" height="13" fill="#fff"/>
<rect x="1216" y="106" width="1" height="38" fill="#000"/>
<rect x="1216" y="185" width="1" height="7" fill="#000"/>
<rect x="1214" y="144" width="5" height="41" fill="#000"/>
<rect x="1224" y="147" width="1" height="20" fill="#000"/>
<rect x="1224" y="183" width="1" height="3" fill="#000"/>
<rect x="1222" y="167" width="5" height="16" fill="#000"/>
<rect x="1223" y="168" width="3" height="14" fill="#fff"/>
<rect x="1232" y="161" width="1" height="6" fill="#000"/>
<rect x="1232" y="173" width="1" height="3" fill="#000"/>
<rect x="1230" y="167" width="5" height="6" fill="#000"/>
<rect x="1240" y="165" width="1" height="7" fill="#000"/>
<rect x="1240" y="181" width="1" height="8" fill="#000"/>
<rect x="1238" y="172" width="5" height="9" fill="#000"/>
<rect x="1248" y="154" width="1" height="6" fill="#000"/>
<rect x="1248" y="180" width="1" height="29" fill="#000"/>
<rect x="1246" y="160" width="5" height="20" fill="#000"/>
<rect x="1247" y="161" width="3" height="18" fill="#fff"/>
<rect x="1256" y="127" width="1" height="3" fill="#000"/>
<rect x="1256" y="159" width="1" height="4" fill="#000"/>
<rect x="1254" y="130" width="5" height="29" fill="#000"/>
<rect x="1255" y="131" width="3" height="27" fill="#fff"/>
<rect x="1264" y="74" width="1" height="8" fill="#000"/>
<rect x="1262" y="82" width="5" height="50" fill="#000"/>
<rect x="1263" y="83" width="3" height="48" fill="#fff"/>
<rect x="1272" y="61" width="1" height="4" fill="#000"/>
<rect x="1272" y="82" width="1" height="4" fill="#000"/>
<rect x="1270" y="65" width="5" height="17" fill="#000"/>
<rect x="1271" y="66" width="3" height="15" fill="#fff"/>
<rect x="1280" y="61" width="1" height="4" fill="#000"/>
<rect x="1278" y="65" width="5" height="4" fill="#000"/>
<rect x="1288" y="47" width="1" height="21" fill="#000"/>
<rect x="1288" y="76" width="1" height="6" fill="#000"/>
<rect x="1286" y="68" width="5" height="8" fill="#000"/>
<rect x="1296" y="70" width="1" height="5" fill="#000"/>
<rect x="1296" y="79" width="1" height="9" fill="#000"/>
<rect x="1294" y="75" width="5" height="4" fill="#000"/>
<rect x="1304" y="68" width="1" height="9" fill="#000"/>
<rect x="1302" y="77" width="5" height="19" fill="#000"/>
<rect x="1312" y="80" width="1" height="13" fill="#000"/>
<rect x="1312" y="133" width="1" height="2" fill="#000"/>
<rect x="1310" y="93" width="5" height="40" fill="#000"/>
<rect x="1320" y="117" width="1" height="8" fill="#000"/>
<rect x="1320" y="133" width="1" height="7" fill="#000"/>
<rect x="1318" y="125" width="5" height="8" fill="#000"/>
<rect x="1319" y="126" width="3" height="6" fill="#fff"/>
<rect x="1328" y="122" width="1" height="6" fill="#000"/>
<rect x="1326" y="128" width="5" height="13" fill="#000"/>
<rect x="1336" y="125" width="1" height="14" fill="#000"/>
<rect x="1336" y="151" width="1" height="5" fill="#000"/>
<rect x="1334" y="139" width="5" height="12" fill="#000"/>
<rect x="1344" y="118" width="1" height="2" fill="#000"/>
<rect x="1344" y="150" width="1" height="4" fill="#000"/>
<rect x="1342" y="120" width="5" height="30" fill="#000"/>
<rect x="1343" y="121" width="3" height="28" fill="#fff"/>
<rect x="1352" y="104" width="1" height="8" fill="#000"/>
<rect x="1352" y="120" width="1" height="7" fill="#000"/>
<rect x="1350" y="112" width="5" height="8" fill="#000"/>
<rect x="1351" y="113" width="3" height="6" fill="#fff"/>
<rect x="1360" y="104" width="1" height="8" fill="#000"/>
<rect x="1360" y="135" width="1" height="18" fill="#000"/>
<rect x="1358" y="112" width="5" height="23" fill="#000"/>
<rect x="1368" y="128" width="1" height="5" fill="#000"/>
<rect x="1368" y="146" width="1" height="11" fill="#000"/>
<rect x="1366" y="133" width="5" height="13" fill="#000"/>
<rect x="1376" y="161" width="1" height="3" fill="#000"/>
<rect x="1374" y="144" width="5" height="17" fill="#000"/>
<rect x="1384" y="152" width="1" height="1" fill="#000"/>
<rect x="1384" y="159" width="1" height="2" fill="#000"/>
<rect x="1382" y="153" width="5" height="6" fill="#000"/>
<rect x="1383" y="154" width="3" height="4" fill="#fff"/>
</g>
<g fill="#fff" stroke="#ff0000" shape-rendering="crispEdges">
<rect x="1019.5" y="125.5" width="73" height="24"/>
<rect x="721.5" y="275.5" width="61" height="18"/>
<rect x="481.5" y="548.5" width="61" height="18"/>
<rect x="1016.5" y="135.5" width="2" height="3"/>
</g>
<g shape-rendering="crispEdges" fill="#ff0000">
<rect x="1009" y="137" width="7" height="1"/>
<rect x="783" y="284" width="9" height="1"/>
<rect x="543" y="557" width="9" height="1"/>
</g>
<text x="1020.5" y="146" font-size="23" fill="#ff0000" text-anchor="start" font-weight="normal" textLength="70.5" lengthAdjust="spacingAndGlyphs">0.72014</text>
<text x="723" y="291" font-size="17" fill="#ff0000" text-anchor="start" font-weight="normal" textLength="58.0" lengthAdjust="spacingAndGlyphs">0.70713</text>
<text x="483" y="564" font-size="17" fill="#ff0000" text-anchor="start" font-weight="normal" textLength="58.0" lengthAdjust="spacingAndGlyphs">0.68289</text>
<line x1="998.5" y1="304.5" x2="1288.5" y2="64.2" stroke="#ff0000" stroke-width="3"/>
<polygon points="1294.5,53 1285.5,60.5 1291.5,68" fill="#ff0000"/>
<line x1="1294.5" y1="53" x2="1388.7" y2="163.8" stroke="#ff0000" stroke-width="3"/>
<polygon points="1396.2,171.4 1384.8,166.8 1392.6,160.8" fill="#ff0000"/>
<text x="8" y="31" font-size="10" fill="#000" text-anchor="start" font-weight="normal" textLength="204.0" lengthAdjust="spacingAndGlyphs" xml:space="preserve" stroke="#000" stroke-width="0.15">AUDUSD-,H4  0.71826 0.71881 0.71810 0.71875</text>
<polygon points="0,26.5 2.5,28.5 0,30.5" fill="#000"/>
<polygon points="1396,20 1405,20 1400.5,25" fill="#a0a0a0"/>
<defs>
<linearGradient id="gBtn" x1="0" y1="0" x2="0" y2="1"><stop offset="0" stop-color="#f85c5c"/><stop offset="1" stop-color="#d42c2c"/></linearGradient>
<linearGradient id="gPrice" x1="0" y1="0" x2="0" y2="1"><stop offset="0" stop-color="#d83030"/><stop offset="1" stop-color="#ae0404"/></linearGradient>
<linearGradient id="gGrey" x1="0" y1="0" x2="0" y2="1"><stop offset="0" stop-color="#f2f2f2"/><stop offset="0.45" stop-color="#e6e6e6"/><stop offset="0.5" stop-color="#d8d8d8"/><stop offset="1" stop-color="#d0d0d0"/></linearGradient>
</defs>
<g shape-rendering="crispEdges">
<rect x="0" y="37" width="216" height="60" fill="#fff"/>
<!-- sell -->
<rect x="0" y="39" width="47" height="24" fill="url(#gBtn)"/>
<rect x="0" y="39" width="47" height="1" fill="#c01010"/>
<rect x="46" y="39" width="1" height="24" fill="#c01010"/>
<rect x="0" y="63" width="104" height="33" fill="url(#gPrice)"/>
<rect x="0" y="62" width="43" height="1" fill="#9a0a0a"/>
<rect x="0" y="63" width="43" height="1" fill="#f07a7a"/>
<!-- lot box -->
<rect x="49" y="39" width="111" height="22" fill="#a8abb0"/>
<rect x="50" y="40" width="109" height="20" fill="#fff"/>
<rect x="50" y="40" width="20" height="20" fill="url(#gGrey)"/>
<rect x="70" y="40" width="1" height="20" fill="#b0b0b0"/>
<rect x="139" y="40" width="20" height="20" fill="url(#gGrey)"/>
<rect x="138" y="40" width="1" height="20" fill="#b0b0b0"/>
<!-- buy -->
<rect x="162" y="39" width="52" height="24" fill="url(#gBtn)"/>
<rect x="162" y="39" width="52" height="1" fill="#c01010"/>
<rect x="162" y="39" width="1" height="24" fill="#c01010"/>
<rect x="213" y="39" width="1" height="57" fill="#b00808"/>
<rect x="106" y="63" width="108" height="33" fill="url(#gPrice)"/>
<rect x="166" y="62" width="44" height="1" fill="#9a0a0a"/>
<rect x="166" y="63" width="44" height="1" fill="#f07a7a"/>
</g>
<polygon points="57,48 62,48 59.5,51" fill="#5a6ad0"/>
<polygon points="146,51 151,51 148.5,48" fill="#5a6ad0"/>
<g font-family="Liberation Sans, sans-serif" fill="#fff">
<text x="7.5" y="55" font-size="12" textLength="25.5" lengthAdjust="spacingAndGlyphs">SELL</text>
<text x="175.5" y="55" font-size="12" textLength="23.5" lengthAdjust="spacingAndGlyphs">BUY</text>
<text x="15" y="91" font-size="12.5" font-weight="bold" textLength="23.5" lengthAdjust="spacingAndGlyphs">0.71</text>
<text x="125" y="91" font-size="12.5" font-weight="bold" textLength="23.5" lengthAdjust="spacingAndGlyphs">0.71</text>
<text x="43" y="91" font-size="34" textLength="34" lengthAdjust="spacingAndGlyphs">87</text>
<text x="154" y="91" font-size="34" textLength="33.5" lengthAdjust="spacingAndGlyphs">89</text>
<text x="82" y="75" font-size="10.5" font-weight="bold" textLength="6.5" lengthAdjust="spacingAndGlyphs">5</text>
<text x="193" y="75" font-size="10.5" font-weight="bold" textLength="6.8" lengthAdjust="spacingAndGlyphs">9</text>
</g>
<text x="111.5" y="54" font-size="12.5" fill="#000" textLength="23" lengthAdjust="spacingAndGlyphs" font-family="Liberation Sans, sans-serif">1.00</text>

<g clip-path="url(#cmacd)" shape-rendering="crispEdges">
<rect x="0" y="637" width="1" height="89" fill="#c0c0c0"/>
<rect x="8" y="637" width="1" height="89" fill="#c0c0c0"/>
<rect x="16" y="637" width="1" height="89" fill="#c0c0c0"/>
<rect x="24" y="637" width="1" height="88" fill="#c0c0c0"/>
<rect x="32" y="637" width="1" height="86" fill="#c0c0c0"/>
<rect x="40" y="637" width="1" height="88" fill="#c0c0c0"/>
<rect x="48" y="637" width="1" height="80" fill="#c0c0c0"/>
<rect x="56" y="637" width="1" height="83" fill="#c0c0c0"/>
<rect x="64" y="637" width="1" height="85" fill="#c0c0c0"/>
<rect x="72" y="637" width="1" height="81" fill="#c0c0c0"/>
<rect x="80" y="637" width="1" height="77" fill="#c0c0c0"/>
<rect x="88" y="637" width="1" height="71" fill="#c0c0c0"/>
<rect x="96" y="637" width="1" height="60" fill="#c0c0c0"/>
<rect x="104" y="637" width="1" height="51" fill="#c0c0c0"/>
<rect x="112" y="637" width="1" height="51" fill="#c0c0c0"/>
<rect x="120" y="637" width="1" height="54" fill="#c0c0c0"/>
<rect x="128" y="637" width="1" height="58" fill="#c0c0c0"/>
<rect x="136" y="637" width="1" height="62" fill="#c0c0c0"/>
<rect x="144" y="637" width="1" height="65" fill="#c0c0c0"/>
<rect x="152" y="637" width="1" height="64" fill="#c0c0c0"/>
<rect x="160" y="637" width="1" height="63" fill="#c0c0c0"/>
<rect x="168" y="637" width="1" height="63" fill="#c0c0c0"/>
<rect x="176" y="637" width="1" height="63" fill="#c0c0c0"/>
<rect x="184" y="637" width="1" height="56" fill="#c0c0c0"/>
<rect x="192" y="637" width="1" height="47" fill="#c0c0c0"/>
<rect x="200" y="637" width="1" height="39" fill="#c0c0c0"/>
<rect x="208" y="637" width="1" height="35" fill="#c0c0c0"/>
<rect x="216" y="637" width="1" height="31" fill="#c0c0c0"/>
<rect x="224" y="637" width="1" height="28" fill="#c0c0c0"/>
<rect x="232" y="637" width="1" height="23" fill="#c0c0c0"/>
<rect x="240" y="637" width="1" height="20" fill="#c0c0c0"/>
<rect x="248" y="637" width="1" height="13" fill="#c0c0c0"/>
<rect x="256" y="637" width="1" height="6" fill="#c0c0c0"/>
<rect x="264" y="624" width="1" height="14" fill="#c0c0c0"/>
<rect x="272" y="609" width="1" height="29" fill="#c0c0c0"/>
<rect x="280" y="599" width="1" height="39" fill="#c0c0c0"/>
<rect x="288" y="593" width="1" height="45" fill="#c0c0c0"/>
<rect x="296" y="594" width="1" height="44" fill="#c0c0c0"/>
<rect x="304" y="609" width="1" height="29" fill="#c0c0c0"/>
<rect x="312" y="618" width="1" height="20" fill="#c0c0c0"/>
<rect x="320" y="624" width="1" height="14" fill="#c0c0c0"/>
<rect x="328" y="631" width="1" height="7" fill="#c0c0c0"/>
<rect x="336" y="637" width="1" height="3" fill="#c0c0c0"/>
<rect x="344" y="637" width="1" height="8" fill="#c0c0c0"/>
<rect x="352" y="637" width="1" height="12" fill="#c0c0c0"/>
<rect x="360" y="637" width="1" height="18" fill="#c0c0c0"/>
<rect x="368" y="637" width="1" height="26" fill="#c0c0c0"/>
<rect x="376" y="637" width="1" height="37" fill="#c0c0c0"/>
<rect x="384" y="637" width="1" height="45" fill="#c0c0c0"/>
<rect x="392" y="637" width="1" height="51" fill="#c0c0c0"/>
<rect x="400" y="637" width="1" height="58" fill="#c0c0c0"/>
<rect x="408" y="637" width="1" height="67" fill="#c0c0c0"/>
<rect x="416" y="637" width="1" height="74" fill="#c0c0c0"/>
<rect x="424" y="637" width="1" height="76" fill="#c0c0c0"/>
<rect x="432" y="637" width="1" height="80" fill="#c0c0c0"/>
<rect x="440" y="637" width="1" height="81" fill="#c0c0c0"/>
<rect x="448" y="637" width="1" height="85" fill="#c0c0c0"/>
<rect x="456" y="637" width="1" height="85" fill="#c0c0c0"/>
<rect x="464" y="637" width="1" height="85" fill="#c0c0c0"/>
<rect x="472" y="637" width="1" height="80" fill="#c0c0c0"/>
<rect x="480" y="637" width="1" height="73" fill="#c0c0c0"/>
<rect x="488" y="637" width="1" height="62" fill="#c0c0c0"/>
<rect x="496" y="637" width="1" height="55" fill="#c0c0c0"/>
<rect x="504" y="637" width="1" height="58" fill="#c0c0c0"/>
<rect x="512" y="637" width="1" height="60" fill="#c0c0c0"/>
<rect x="520" y="637" width="1" height="61" fill="#c0c0c0"/>
<rect x="528" y="637" width="1" height="66" fill="#c0c0c0"/>
<rect x="536" y="637" width="1" height="74" fill="#c0c0c0"/>
<rect x="544" y="637" width="1" height="80" fill="#c0c0c0"/>
<rect x="552" y="637" width="1" height="82" fill="#c0c0c0"/>
<rect x="560" y="637" width="1" height="82" fill="#c0c0c0"/>
<rect x="568" y="637" width="1" height="79" fill="#c0c0c0"/>
<rect x="576" y="637" width="1" height="74" fill="#c0c0c0"/>
<rect x="584" y="637" width="1" height="69" fill="#c0c0c0"/>
<rect x="592" y="637" width="1" height="61" fill="#c0c0c0"/>
<rect x="600" y="637" width="1" height="54" fill="#c0c0c0"/>
<rect x="608" y="637" width="1" height="45" fill="#c0c0c0"/>
<rect x="616" y="637" width="1" height="46" fill="#c0c0c0"/>
<rect x="624" y="637" width="1" height="43" fill="#c0c0c0"/>
<rect x="632" y="637" width="1" height="38" fill="#c0c0c0"/>
<rect x="640" y="637" width="1" height="30" fill="#c0c0c0"/>
<rect x="648" y="637" width="1" height="20" fill="#c0c0c0"/>
<rect x="656" y="637" width="1" height="12" fill="#c0c0c0"/>
<rect x="664" y="637" width="1" height="2" fill="#c0c0c0"/>
<rect x="672" y="631" width="1" height="7" fill="#c0c0c0"/>
<rect x="680" y="621" width="1" height="17" fill="#c0c0c0"/>
<rect x="688" y="615" width="1" height="23" fill="#c0c0c0"/>
<rect x="696" y="610" width="1" height="28" fill="#c0c0c0"/>
<rect x="704" y="605" width="1" height="33" fill="#c0c0c0"/>
<rect x="712" y="606" width="1" height="32" fill="#c0c0c0"/>
<rect x="720" y="605" width="1" height="33" fill="#c0c0c0"/>
<rect x="728" y="605" width="1" height="33" fill="#c0c0c0"/>
<rect x="736" y="607" width="1" height="31" fill="#c0c0c0"/>
<rect x="744" y="614" width="1" height="24" fill="#c0c0c0"/>
<rect x="752" y="620" width="1" height="18" fill="#c0c0c0"/>
<rect x="760" y="618" width="1" height="20" fill="#c0c0c0"/>
<rect x="768" y="619" width="1" height="19" fill="#c0c0c0"/>
<rect x="776" y="619" width="1" height="19" fill="#c0c0c0"/>
<rect x="784" y="612" width="1" height="26" fill="#c0c0c0"/>
<rect x="792" y="606" width="1" height="32" fill="#c0c0c0"/>
<rect x="800" y="604" width="1" height="34" fill="#c0c0c0"/>
<rect x="808" y="608" width="1" height="30" fill="#c0c0c0"/>
<rect x="816" y="604" width="1" height="34" fill="#c0c0c0"/>
<rect x="824" y="601" width="1" height="37" fill="#c0c0c0"/>
<rect x="832" y="603" width="1" height="35" fill="#c0c0c0"/>
<rect x="840" y="607" width="1" height="31" fill="#c0c0c0"/>
<rect x="848" y="604" width="1" height="34" fill="#c0c0c0"/>
<rect x="856" y="599" width="1" height="39" fill="#c0c0c0"/>
<rect x="864" y="593" width="1" height="45" fill="#c0c0c0"/>
<rect x="872" y="588" width="1" height="50" fill="#c0c0c0"/>
<rect x="880" y="587" width="1" height="51" fill="#c0c0c0"/>
<rect x="888" y="585" width="1" height="53" fill="#c0c0c0"/>
<rect x="896" y="587" width="1" height="51" fill="#c0c0c0"/>
<rect x="904" y="589" width="1" height="49" fill="#c0c0c0"/>
<rect x="912" y="589" width="1" height="49" fill="#c0c0c0"/>
<rect x="920" y="593" width="1" height="45" fill="#c0c0c0"/>
<rect x="928" y="597" width="1" height="41" fill="#c0c0c0"/>
<rect x="936" y="596" width="1" height="42" fill="#c0c0c0"/>
<rect x="944" y="597" width="1" height="41" fill="#c0c0c0"/>
<rect x="952" y="596" width="1" height="42" fill="#c0c0c0"/>
<rect x="960" y="599" width="1" height="39" fill="#c0c0c0"/>
<rect x="968" y="607" width="1" height="31" fill="#c0c0c0"/>
<rect x="976" y="612" width="1" height="26" fill="#c0c0c0"/>
<rect x="984" y="613" width="1" height="25" fill="#c0c0c0"/>
<rect x="992" y="614" width="1" height="24" fill="#c0c0c0"/>
<rect x="1000" y="615" width="1" height="23" fill="#c0c0c0"/>
<rect x="1008" y="614" width="1" height="24" fill="#c0c0c0"/>
<rect x="1016" y="616" width="1" height="22" fill="#c0c0c0"/>
<rect x="1024" y="619" width="1" height="19" fill="#c0c0c0"/>
<rect x="1032" y="619" width="1" height="19" fill="#c0c0c0"/>
<rect x="1040" y="619" width="1" height="19" fill="#c0c0c0"/>
<rect x="1048" y="614" width="1" height="24" fill="#c0c0c0"/>
<rect x="1056" y="611" width="1" height="27" fill="#c0c0c0"/>
<rect x="1064" y="607" width="1" height="31" fill="#c0c0c0"/>
<rect x="1072" y="603" width="1" height="35" fill="#c0c0c0"/>
<rect x="1080" y="600" width="1" height="38" fill="#c0c0c0"/>
<rect x="1088" y="598" width="1" height="40" fill="#c0c0c0"/>
<rect x="1096" y="595" width="1" height="43" fill="#c0c0c0"/>
<rect x="1104" y="593" width="1" height="45" fill="#c0c0c0"/>
<rect x="1112" y="590" width="1" height="48" fill="#c0c0c0"/>
<rect x="1120" y="587" width="1" height="51" fill="#c0c0c0"/>
<rect x="1128" y="585" width="1" height="53" fill="#c0c0c0"/>
<rect x="1136" y="585" width="1" height="53" fill="#c0c0c0"/>
<rect x="1144" y="586" width="1" height="52" fill="#c0c0c0"/>
<rect x="1152" y="588" width="1" height="50" fill="#c0c0c0"/>
<rect x="1160" y="591" width="1" height="47" fill="#c0c0c0"/>
<rect x="1168" y="592" width="1" height="46" fill="#c0c0c0"/>
<rect x="1176" y="596" width="1" height="42" fill="#c0c0c0"/>
<rect x="1184" y="598" width="1" height="40" fill="#c0c0c0"/>
<rect x="1192" y="600" width="1" height="38" fill="#c0c0c0"/>
<rect x="1200" y="602" width="1" height="36" fill="#c0c0c0"/>
<rect x="1208" y="602" width="1" height="36" fill="#c0c0c0"/>
<rect x="1216" y="607" width="1" height="31" fill="#c0c0c0"/>
<rect x="1224" y="610" width="1" height="28" fill="#c0c0c0"/>
<rect x="1232" y="613" width="1" height="25" fill="#c0c0c0"/>
<rect x="1240" y="616" width="1" height="22" fill="#c0c0c0"/>
<rect x="1248" y="617" width="1" height="21" fill="#c0c0c0"/>
<rect x="1256" y="614" width="1" height="24" fill="#c0c0c0"/>
<rect x="1264" y="606" width="1" height="32" fill="#c0c0c0"/>
<rect x="1272" y="598" width="1" height="40" fill="#c0c0c0"/>
<rect x="1280" y="593" width="1" height="45" fill="#c0c0c0"/>
<rect x="1288" y="590" width="1" height="48" fill="#c0c0c0"/>
<rect x="1296" y="589" width="1" height="49" fill="#c0c0c0"/>
<rect x="1304" y="591" width="1" height="47" fill="#c0c0c0"/>
<rect x="1312" y="597" width="1" height="41" fill="#c0c0c0"/>
<rect x="1320" y="601" width="1" height="37" fill="#c0c0c0"/>
<rect x="1328" y="607" width="1" height="31" fill="#c0c0c0"/>
<rect x="1336" y="613" width="1" height="25" fill="#c0c0c0"/>
<rect x="1344" y="615" width="1" height="23" fill="#c0c0c0"/>
<rect x="1352" y="615" width="1" height="23" fill="#c0c0c0"/>
<rect x="1360" y="618" width="1" height="20" fill="#c0c0c0"/>
<rect x="1368" y="622" width="1" height="16" fill="#c0c0c0"/>
<rect x="1376" y="628" width="1" height="10" fill="#c0c0c0"/>
<rect x="1384" y="631" width="1" height="7" fill="#c0c0c0"/>
</g>
<g clip-path="url(#cmacd)">
<polyline points="0.5,734.9 8.5,733.8 16.5,732.6 24.5,731.4 32.5,730.0 40.5,728.8 48.5,726.7 56.5,724.9 64.5,723.3 72.5,722.4 80.5,721.2 88.5,719.1 96.5,716.0 104.5,712.1 112.5,708.0 120.5,705.0 128.5,702.2 136.5,699.7 144.5,697.8 152.5,696.3 160.5,695.6 168.5,695.9 176.5,697.2 184.5,697.8 192.5,697.0 200.5,694.9 208.5,691.9 216.5,688.2 224.5,684.2 232.5,679.7 240.5,674.8 248.5,669.3 256.5,663.8 264.5,657.0 272.5,649.5 280.5,641.3 288.5,632.8 296.5,624.9 304.5,619.1 312.5,614.7 320.5,611.7 328.5,610.2 336.5,612.1 344.5,616.2 352.5,622.0 360.5,628.9 368.5,636.7 376.5,644.0 384.5,651.2 392.5,658.4 400.5,665.7 408.5,672.9 416.5,680.2 424.5,687.3 432.5,694.2 440.5,700.3 448.5,705.7 456.5,710.1 464.5,713.9 472.5,716.3 480.5,716.9 488.5,715.6 496.5,713.3 504.5,710.8 512.5,708.4 520.5,705.8 528.5,703.7 536.5,702.5 544.5,702.4 552.5,703.4 560.5,705.7 568.5,708.3 576.5,710.1 584.5,711.1 592.5,711.1 600.5,709.8 608.5,706.6 616.5,702.8 624.5,698.5 632.5,693.5 640.5,688.1 648.5,682.2 656.5,675.8 664.5,669.3 672.5,662.5 680.5,655.6 688.5,648.0 696.5,640.1 704.5,632.2 712.5,625.3 720.5,619.4 728.5,614.4 736.5,610.7 744.5,608.8 752.5,608.8 760.5,609.1 768.5,610.1 776.5,611.6 784.5,612.3 792.5,612.4 800.5,612.4 808.5,612.4 816.5,611.2 824.5,609.1 832.5,607.4 840.5,606.1 848.5,604.4 856.5,603.0 864.5,601.6 872.5,599.8 880.5,597.5 888.5,595.4 896.5,593.9 904.5,592.3 912.5,590.3 920.5,589.1 928.5,588.8 936.5,589.1 944.5,590.0 952.5,591.1 960.5,592.6 968.5,594.7 976.5,597.3 984.5,600.0 992.5,602.2 1000.5,604.3 1008.5,606.3 1016.5,608.5 1024.5,611.1 1032.5,613.4 1040.5,614.8 1048.5,615.0 1056.5,614.8 1064.5,614.0 1072.5,612.7 1080.5,611.2 1088.5,609.2 1096.5,606.4 1104.5,603.4 1112.5,600.2 1120.5,597.1 1128.5,594.3 1136.5,591.8 1144.5,589.9 1152.5,588.5 1160.5,587.6 1168.5,587.4 1176.5,587.8 1184.5,588.6 1192.5,590.1 1200.5,592.0 1208.5,594.0 1216.5,596.4 1224.5,598.8 1232.5,601.2 1240.5,603.9 1248.5,606.2 1256.5,608.0 1264.5,608.6 1272.5,608.2 1280.5,607.2 1288.5,605.3 1296.5,603.0 1304.5,600.6 1312.5,598.4 1320.5,596.7 1328.5,595.9 1336.5,596.7 1344.5,598.5 1352.5,601.0 1360.5,604.1 1368.5,607.8 1376.5,611.9 1384.5,615.7" fill="none" stroke="#ff0000" stroke-width="1" shape-rendering="crispEdges" stroke-dasharray="3 3"/>
</g>
<text x="-1" y="587" font-size="10" fill="#000" text-anchor="start" font-weight="normal" textLength="144.0" lengthAdjust="spacingAndGlyphs" stroke="#000" stroke-width="0.15">MACD(12,26,9) 0.000422 0.001262</text>
<line x1="1306" y1="594" x2="1397.6" y2="644.9" stroke="#ff0000" stroke-width="3"/>
<polygon points="1407.7,649.8 1399.5,641.3 1395.7,648.5" fill="#ff0000"/>
<g shape-rendering="crispEdges">
<line x1="0" y1="782.5" x2="1651" y2="782.5" stroke="#c0c0c0" stroke-width="1" stroke-dasharray="3 3"/>
<line x1="0" y1="833.5" x2="1651" y2="833.5" stroke="#c0c0c0" stroke-width="1" stroke-dasharray="3 3"/>
<line x1="0" y1="894.5" x2="1651" y2="894.5" stroke="#c0c0c0" stroke-width="1" stroke-dasharray="3 3"/>
</g>
<g clip-path="url(#crsi)">
<polyline points="0.5,859.6 8.5,865.1 16.5,867.8 24.5,868.0 32.5,868.0 40.5,873.9 48.5,847.9 56.5,862.9 64.5,863.8 72.5,854.3 80.5,852.1 88.5,845.7 96.5,835.7 104.5,834.1 112.5,850.2 120.5,854.4 128.5,858.1 136.5,860.1 144.5,861.2 152.5,853.8 160.5,855.8 168.5,857.1 176.5,857.5 184.5,840.9 192.5,834.0 200.5,832.6 208.5,838.5 216.5,839.6 224.5,837.5 232.5,833.3 240.5,834.7 248.5,824.2 256.5,820.8 264.5,795.0 272.5,797.2 280.5,800.2 288.5,807.8 296.5,820.8 304.5,847.2 312.5,841.0 320.5,839.8 328.5,841.5 336.5,850.0 344.5,844.6 352.5,844.8 360.5,848.9 368.5,855.8 376.5,861.8 384.5,862.5 392.5,863.4 400.5,866.5 408.5,872.8 416.5,872.8 424.5,865.1 432.5,870.3 440.5,864.3 448.5,870.3 456.5,863.7 464.5,865.4 472.5,853.4 480.5,846.2 488.5,834.5 496.5,840.7 504.5,855.0 512.5,856.3 520.5,857.1 528.5,863.4 536.5,869.7 544.5,870.7 552.5,867.3 560.5,862.7 568.5,856.7 576.5,850.2 584.5,851.9 592.5,841.1 600.5,839.8 608.5,831.1 616.5,850.5 624.5,844.4 632.5,836.7 640.5,830.4 648.5,822.8 656.5,822.8 664.5,816.8 672.5,813.1 680.5,808.4 688.5,815.7 696.5,813.7 704.5,811.0 712.5,822.7 720.5,820.4 728.5,818.8 736.5,826.7 744.5,838.8 752.5,839.9 760.5,822.2 768.5,829.1 776.5,826.7 784.5,812.3 792.5,812.3 800.5,818.3 808.5,829.2 816.5,816.1 824.5,817.0 832.5,826.1 840.5,829.9 848.5,818.8 856.5,812.8 864.5,809.9 872.5,808.1 880.5,813.1 888.5,811.9 896.5,819.0 904.5,818.3 912.5,814.4 920.5,825.6 928.5,823.7 936.5,815.9 944.5,818.5 952.5,814.4 960.5,823.3 968.5,838.2 976.5,833.7 984.5,825.9 992.5,825.9 1000.5,825.0 1008.5,822.6 1016.5,828.0 1024.5,832.1 1032.5,825.3 1040.5,823.9 1048.5,810.6 1056.5,812.8 1064.5,810.1 1072.5,806.9 1080.5,806.7 1088.5,805.8 1096.5,799.8 1104.5,802.8 1112.5,798.7 1120.5,795.7 1128.5,795.7 1136.5,797.8 1144.5,803.4 1152.5,807.6 1160.5,810.4 1168.5,806.8 1176.5,815.4 1184.5,811.8 1192.5,813.3 1200.5,811.4 1208.5,805.1 1216.5,831.6 1224.5,823.6 1232.5,826.4 1240.5,830.9 1248.5,821.3 1256.5,809.7 1264.5,796.4 1272.5,792.7 1280.5,794.5 1288.5,798.8 1296.5,800.6 1304.5,810.9 1312.5,829.2 1320.5,826.5 1328.5,833.2 1336.5,837.4 1344.5,825.1 1352.5,822.2 1360.5,832.0 1368.5,836.4 1376.5,842.2 1384.5,839.0" fill="none" stroke="#1e90ff" stroke-width="1" shape-rendering="crispEdges" />
</g>
<text x="-2" y="759" font-size="10" fill="#000" text-anchor="start" font-weight="normal" textLength="66.0" lengthAdjust="spacingAndGlyphs" stroke="#000" stroke-width="0.15">RSI(14) 46.5546</text>
<line x1="1258" y1="789" x2="1384.3" y2="842.1" stroke="#ff0000" stroke-width="3"/>
<polygon points="1394.7,846.4 1386.6,838.1 1382.1,846.1" fill="#ff0000"/>
<g shape-rendering="crispEdges" fill="#000">
<rect x="0" y="19" width="1652" height="1"/>
<rect x="1651" y="19" width="1" height="554"/>
<rect x="0" y="572" width="1652" height="1"/>
<rect x="0" y="574" width="1652" height="1"/>
<rect x="1651" y="574" width="1" height="171"/>
<rect x="0" y="744" width="1652" height="1"/>
<rect x="0" y="746" width="1652" height="1"/>
<rect x="1651" y="746" width="1" height="175"/>
<rect x="0" y="920" width="1652" height="1"/>
</g>
<g shape-rendering="crispEdges" fill="#000">
<rect x="1652" y="41" width="3" height="1"/>
<rect x="1652" y="74" width="3" height="1"/>
<rect x="1652" y="107" width="3" height="1"/>
<rect x="1652" y="140" width="3" height="1"/>
<rect x="1652" y="173" width="3" height="1"/>
<rect x="1652" y="206" width="3" height="1"/>
<rect x="1652" y="239" width="3" height="1"/>
<rect x="1652" y="272" width="3" height="1"/>
<rect x="1652" y="305" width="3" height="1"/>
<rect x="1652" y="338" width="3" height="1"/>
<rect x="1652" y="371" width="3" height="1"/>
<rect x="1652" y="404" width="3" height="1"/>
<rect x="1652" y="437" width="3" height="1"/>
<rect x="1652" y="470" width="3" height="1"/>
<rect x="1652" y="503" width="3" height="1"/>
<rect x="1652" y="536" width="3" height="1"/>
<rect x="1652" y="569" width="3" height="1"/>
</g>
<text x="1657" y="44.8" font-size="9.6" fill="#000" text-anchor="start" font-weight="normal" textLength="33.0" lengthAdjust="spacingAndGlyphs" stroke="#000" stroke-width="0.15">0.72865</text>
<text x="1657" y="77.8" font-size="9.6" fill="#000" text-anchor="start" font-weight="normal" textLength="33.0" lengthAdjust="spacingAndGlyphs" stroke="#000" stroke-width="0.15">0.72570</text>
<text x="1657" y="110.8" font-size="9.6" fill="#000" text-anchor="start" font-weight="normal" textLength="33.0" lengthAdjust="spacingAndGlyphs" stroke="#000" stroke-width="0.15">0.72280</text>
<text x="1657" y="143.8" font-size="9.6" fill="#000" text-anchor="start" font-weight="normal" textLength="33.0" lengthAdjust="spacingAndGlyphs" stroke="#000" stroke-width="0.15">0.71990</text>
<text x="1657" y="176.8" font-size="9.6" fill="#000" text-anchor="start" font-weight="normal" textLength="33.0" lengthAdjust="spacingAndGlyphs" stroke="#000" stroke-width="0.15">0.71695</text>
<text x="1657" y="209.8" font-size="9.6" fill="#000" text-anchor="start" font-weight="normal" textLength="33.0" lengthAdjust="spacingAndGlyphs" stroke="#000" stroke-width="0.15">0.71400</text>
<text x="1657" y="242.8" font-size="9.6" fill="#000" text-anchor="start" font-weight="normal" textLength="33.0" lengthAdjust="spacingAndGlyphs" stroke="#000" stroke-width="0.15">0.71110</text>
<text x="1657" y="275.8" font-size="9.6" fill="#000" text-anchor="start" font-weight="normal" textLength="33.0" lengthAdjust="spacingAndGlyphs" stroke="#000" stroke-width="0.15">0.70815</text>
<text x="1657" y="308.8" font-size="9.6" fill="#000" text-anchor="start" font-weight="normal" textLength="33.0" lengthAdjust="spacingAndGlyphs" stroke="#000" stroke-width="0.15">0.70525</text>
<text x="1657" y="341.8" font-size="9.6" fill="#000" text-anchor="start" font-weight="normal" textLength="33.0" lengthAdjust="spacingAndGlyphs" stroke="#000" stroke-width="0.15">0.70230</text>
<text x="1657" y="374.8" font-size="9.6" fill="#000" text-anchor="start" font-weight="normal" textLength="33.0" lengthAdjust="spacingAndGlyphs" stroke="#000" stroke-width="0.15">0.69935</text>
<text x="1657" y="407.8" font-size="9.6" fill="#000" text-anchor="start" font-weight="normal" textLength="33.0" lengthAdjust="spacingAndGlyphs" stroke="#000" stroke-width="0.15">0.69645</text>
<text x="1657" y="440.8" font-size="9.6" fill="#000" text-anchor="start" font-weight="normal" textLength="33.0" lengthAdjust="spacingAndGlyphs" stroke="#000" stroke-width="0.15">0.69350</text>
<text x="1657" y="473.8" font-size="9.6" fill="#000" text-anchor="start" font-weight="normal" textLength="33.0" lengthAdjust="spacingAndGlyphs" stroke="#000" stroke-width="0.15">0.69060</text>
<text x="1657" y="506.8" font-size="9.6" fill="#000" text-anchor="start" font-weight="normal" textLength="33.0" lengthAdjust="spacingAndGlyphs" stroke="#000" stroke-width="0.15">0.68765</text>
<text x="1657" y="539.8" font-size="9.6" fill="#000" text-anchor="start" font-weight="normal" textLength="33.0" lengthAdjust="spacingAndGlyphs" stroke="#000" stroke-width="0.15">0.68475</text>
<text x="1657" y="572.8" font-size="9.6" fill="#000" text-anchor="start" font-weight="normal" textLength="33.0" lengthAdjust="spacingAndGlyphs" stroke="#000" stroke-width="0.15">0.68180</text>
<g shape-rendering="crispEdges">
<rect x="1653" y="68" width="41" height="11" fill="#ff0000"/>
<rect x="1646.5" y="72.5" width="4" height="4" fill="#fff" stroke="#ff0000"/>
<rect x="1653" y="99" width="41" height="11" fill="#ff0000"/>
<rect x="1646.5" y="103.5" width="4" height="4" fill="#fff" stroke="#ff0000"/>
<rect x="1653" y="131" width="41" height="11" fill="#ffa500"/>
<rect x="1646.5" y="135.5" width="4" height="4" fill="#fff" stroke="#ffa500"/>
<rect x="1653" y="147" width="41" height="11" fill="#000000"/>
<rect x="1653" y="182" width="41" height="11" fill="#0000ff"/>
<rect x="1646.5" y="186.5" width="4" height="4" fill="#fff" stroke="#0000ff"/>
<rect x="1653" y="222" width="41" height="11" fill="#0000ff"/>
<rect x="1646.5" y="226.5" width="4" height="4" fill="#fff" stroke="#0000ff"/>
</g>
<text x="1657" y="76.8" font-size="9.6" fill="#fff" text-anchor="start" font-weight="normal" textLength="33.0" lengthAdjust="spacingAndGlyphs" stroke="#fff" stroke-width="0.15">0.72572</text>
<text x="1657" y="107.8" font-size="9.6" fill="#fff" text-anchor="start" font-weight="normal" textLength="33.0" lengthAdjust="spacingAndGlyphs" stroke="#fff" stroke-width="0.15">0.72297</text>
<text x="1657" y="139.8" font-size="9.6" fill="#fff" text-anchor="start" font-weight="normal" textLength="33.0" lengthAdjust="spacingAndGlyphs" stroke="#fff" stroke-width="0.15">0.72014</text>
<text x="1657" y="155.8" font-size="9.6" fill="#fff" text-anchor="start" font-weight="normal" textLength="33.0" lengthAdjust="spacingAndGlyphs" stroke="#fff" stroke-width="0.15">0.71875</text>
<text x="1657" y="190.8" font-size="9.6" fill="#fff" text-anchor="start" font-weight="normal" textLength="33.0" lengthAdjust="spacingAndGlyphs" stroke="#fff" stroke-width="0.15">0.71562</text>
<text x="1657" y="230.8" font-size="9.6" fill="#fff" text-anchor="start" font-weight="normal" textLength="33.0" lengthAdjust="spacingAndGlyphs" stroke="#fff" stroke-width="0.15">0.71207</text>
<g shape-rendering="crispEdges" fill="#000"><rect x="1652" y="575" width="3" height="1"/><rect x="1652" y="637" width="3" height="1"/><rect x="1652" y="743" width="3" height="1"/><rect x="1652" y="747" width="3" height="1"/><rect x="1652" y="782" width="3" height="1"/><rect x="1652" y="833" width="3" height="1"/><rect x="1652" y="894" width="3" height="1"/></g>
<text x="1655" y="585" font-size="10" fill="#000" text-anchor="start" font-weight="normal" textLength="38.0" lengthAdjust="spacingAndGlyphs" stroke="#000" stroke-width="0.15">0.003607</text>
<text x="1657" y="641.5" font-size="10" fill="#000" text-anchor="start" font-weight="normal" textLength="17.0" lengthAdjust="spacingAndGlyphs" stroke="#000" stroke-width="0.15">0.00</text>
<text x="1654" y="742" font-size="10" fill="#000" text-anchor="start" font-weight="normal" textLength="40.0" lengthAdjust="spacingAndGlyphs" stroke="#000" stroke-width="0.15">-0.006292</text>
<text x="1655" y="757.5" font-size="10" fill="#000" text-anchor="start" font-weight="normal" textLength="15.0" lengthAdjust="spacingAndGlyphs" stroke="#000" stroke-width="0.15">100</text>
<text x="1655" y="786.5" font-size="10" fill="#000" text-anchor="start" font-weight="normal" textLength="10.0" lengthAdjust="spacingAndGlyphs" stroke="#000" stroke-width="0.15">80</text>
<text x="1655" y="837.5" font-size="10" fill="#000" text-anchor="start" font-weight="normal" textLength="10.0" lengthAdjust="spacingAndGlyphs" stroke="#000" stroke-width="0.15">50</text>
<text x="1655" y="898.5" font-size="10" fill="#000" text-anchor="start" font-weight="normal" textLength="10.0" lengthAdjust="spacingAndGlyphs" stroke="#000" stroke-width="0.15">15</text>
<text x="1655" y="917" font-size="10" fill="#000" text-anchor="start" font-weight="normal" textLength="5.0" lengthAdjust="spacingAndGlyphs" stroke="#000" stroke-width="0.15">0</text>
<g shape-rendering="crispEdges" fill="#000">
<rect x="56" y="921" width="1" height="3"/>
<rect x="120" y="921" width="1" height="3"/>
<rect x="184" y="921" width="1" height="3"/>
<rect x="248" y="921" width="1" height="3"/>
<rect x="312" y="921" width="1" height="3"/>
<rect x="376" y="921" width="1" height="3"/>
<rect x="440" y="921" width="1" height="3"/>
<rect x="504" y="921" width="1" height="3"/>
<rect x="568" y="921" width="1" height="3"/>
<rect x="632" y="921" width="1" height="3"/>
<rect x="696" y="921" width="1" height="3"/>
<rect x="760" y="921" width="1" height="3"/>
<rect x="824" y="921" width="1" height="3"/>
<rect x="888" y="921" width="1" height="3"/>
<rect x="952" y="921" width="1" height="3"/>
<rect x="1016" y="921" width="1" height="3"/>
<rect x="1080" y="921" width="1" height="3"/>
<rect x="1144" y="921" width="1" height="3"/>
<rect x="1208" y="921" width="1" height="3"/>
<rect x="1272" y="921" width="1" height="3"/>
<rect x="1336" y="921" width="1" height="3"/>
</g>
<text x="56" y="933" font-size="10" fill="#000" text-anchor="start" font-weight="normal" textLength="52.2" lengthAdjust="spacingAndGlyphs" stroke="#000" stroke-width="0.15">28 Apr 08:00</text>
<text x="120" y="933" font-size="10" fill="#000" text-anchor="start" font-weight="normal" textLength="52.2" lengthAdjust="spacingAndGlyphs" stroke="#000" stroke-width="0.15">29 Apr 16:00</text>
<text x="184" y="933" font-size="10" fill="#000" text-anchor="start" font-weight="normal" textLength="50.6" lengthAdjust="spacingAndGlyphs" stroke="#000" stroke-width="0.15">3 May 00:00</text>
<text x="248" y="933" font-size="10" fill="#000" text-anchor="start" font-weight="normal" textLength="50.6" lengthAdjust="spacingAndGlyphs" stroke="#000" stroke-width="0.15">4 May 08:00</text>
<text x="312" y="933" font-size="10" fill="#000" text-anchor="start" font-weight="normal" textLength="50.6" lengthAdjust="spacingAndGlyphs" stroke="#000" stroke-width="0.15">5 May 16:00</text>
<text x="376" y="933" font-size="10" fill="#000" text-anchor="start" font-weight="normal" textLength="50.6" lengthAdjust="spacingAndGlyphs" stroke="#000" stroke-width="0.15">9 May 00:00</text>
<text x="440" y="933" font-size="10" fill="#000" text-anchor="start" font-weight="normal" textLength="55.8" lengthAdjust="spacingAndGlyphs" stroke="#000" stroke-width="0.15">10 May 08:00</text>
<text x="504" y="933" font-size="10" fill="#000" text-anchor="start" font-weight="normal" textLength="55.1" lengthAdjust="spacingAndGlyphs" stroke="#000" stroke-width="0.15">11 May 16:00</text>
<text x="568" y="933" font-size="10" fill="#000" text-anchor="start" font-weight="normal" textLength="55.8" lengthAdjust="spacingAndGlyphs" stroke="#000" stroke-width="0.15">13 May 00:00</text>
<text x="632" y="933" font-size="10" fill="#000" text-anchor="start" font-weight="normal" textLength="55.8" lengthAdjust="spacingAndGlyphs" stroke="#000" stroke-width="0.15">16 May 08:00</text>
<text x="696" y="933" font-size="10" fill="#000" text-anchor="start" font-weight="normal" textLength="55.8" lengthAdjust="spacingAndGlyphs" stroke="#000" stroke-width="0.15">17 May 16:00</text>
<text x="760" y="933" font-size="10" fill="#000" text-anchor="start" font-weight="normal" textLength="55.8" lengthAdjust="spacingAndGlyphs" stroke="#000" stroke-width="0.15">19 May 00:00</text>
<text x="824" y="933" font-size="10" fill="#000" text-anchor="start" font-weight="normal" textLength="55.8" lengthAdjust="spacingAndGlyphs" stroke="#000" stroke-width="0.15">20 May 08:00</text>
<text x="888" y="933" font-size="10" fill="#000" text-anchor="start" font-weight="normal" textLength="55.8" lengthAdjust="spacingAndGlyphs" stroke="#000" stroke-width="0.15">23 May 16:00</text>
<text x="952" y="933" font-size="10" fill="#000" text-anchor="start" font-weight="normal" textLength="55.8" lengthAdjust="spacingAndGlyphs" stroke="#000" stroke-width="0.15">25 May 00:00</text>
<text x="1016" y="933" font-size="10" fill="#000" text-anchor="start" font-weight="normal" textLength="55.8" lengthAdjust="spacingAndGlyphs" stroke="#000" stroke-width="0.15">26 May 08:00</text>
<text x="1080" y="933" font-size="10" fill="#000" text-anchor="start" font-weight="normal" textLength="55.8" lengthAdjust="spacingAndGlyphs" stroke="#000" stroke-width="0.15">27 May 16:00</text>
<text x="1144" y="933" font-size="10" fill="#000" text-anchor="start" font-weight="normal" textLength="55.8" lengthAdjust="spacingAndGlyphs" stroke="#000" stroke-width="0.15">31 May 00:00</text>
<text x="1208" y="933" font-size="10" fill="#000" text-anchor="start" font-weight="normal" textLength="48.1" lengthAdjust="spacingAndGlyphs" stroke="#000" stroke-width="0.15">1 Jun 08:00</text>
<text x="1272" y="933" font-size="10" fill="#000" text-anchor="start" font-weight="normal" textLength="48.1" lengthAdjust="spacingAndGlyphs" stroke="#000" stroke-width="0.15">2 Jun 16:00</text>
<text x="1336" y="933" font-size="10" fill="#000" text-anchor="start" font-weight="normal" textLength="48.1" lengthAdjust="spacingAndGlyphs" stroke="#000" stroke-width="0.15">6 Jun 00:00</text>
<text x="-8" y="933" font-size="10" fill="#000" text-anchor="start" font-weight="normal" textLength="49.6" lengthAdjust="spacingAndGlyphs" stroke="#000" stroke-width="0.15">27 Apr 2022</text>
</svg>
</body></html>
